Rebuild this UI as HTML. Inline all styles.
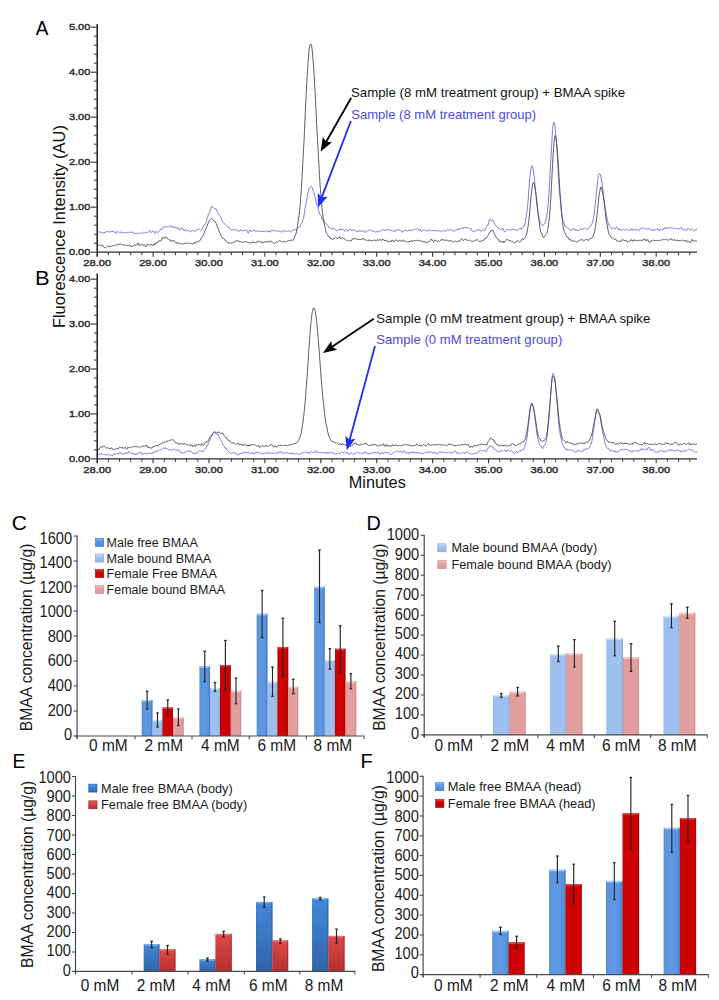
<!DOCTYPE html>
<html><head><meta charset="utf-8"><title>BMAA figure</title>
<style>html,body{margin:0;padding:0;background:#fff;}svg{display:block;}
text{font-family:"Liberation Sans", sans-serif;}</style></head>
<body><svg width="719" height="1000" viewBox="0 0 719 1000" font-family='"Liberation Sans", sans-serif'><defs>
<linearGradient id="mf" x1="0" x2="1" y1="0" y2="0"><stop offset="0" stop-color="#5a93dc"/><stop offset="0.5" stop-color="#5f99e2"/><stop offset="1" stop-color="#5690dc"/></linearGradient>
<linearGradient id="mfE"><stop offset="0" stop-color="#3d6fb8"/><stop offset="1" stop-color="#3d6fb8"/></linearGradient>
<linearGradient id="mfT"><stop offset="0" stop-color="#a9d6fa"/><stop offset="1" stop-color="#a9d6fa"/></linearGradient>
<linearGradient id="mb" x1="0" x2="1"><stop offset="0" stop-color="#9bbfee"/><stop offset="1" stop-color="#9ec1ef"/></linearGradient>
<linearGradient id="mbE"><stop offset="0" stop-color="#7aa0d4"/><stop offset="1" stop-color="#7aa0d4"/></linearGradient>
<linearGradient id="mbT"><stop offset="0" stop-color="#d6ecfc"/><stop offset="1" stop-color="#d6ecfc"/></linearGradient>
<linearGradient id="ff" x1="0" x2="1"><stop offset="0" stop-color="#cc0000"/><stop offset="1" stop-color="#cf0202"/></linearGradient>
<linearGradient id="ffE"><stop offset="0" stop-color="#a00000"/><stop offset="1" stop-color="#a00000"/></linearGradient>
<linearGradient id="ffT"><stop offset="0" stop-color="#e84a4a"/><stop offset="1" stop-color="#e84a4a"/></linearGradient>
<linearGradient id="fb" x1="0" x2="1"><stop offset="0" stop-color="#e29d9d"/><stop offset="1" stop-color="#e4a0a0"/></linearGradient>
<linearGradient id="fbE"><stop offset="0" stop-color="#c88484"/><stop offset="1" stop-color="#c88484"/></linearGradient>
<linearGradient id="fbT"><stop offset="0" stop-color="#f6d0d0"/><stop offset="1" stop-color="#f6d0d0"/></linearGradient>
<linearGradient id="eb" x1="0" x2="0" y1="0" y2="1"><stop offset="0" stop-color="#4388da"/><stop offset="1" stop-color="#3165aa"/></linearGradient>
<linearGradient id="ebE"><stop offset="0" stop-color="#2a5a9c"/><stop offset="1" stop-color="#2a5a9c"/></linearGradient>
<linearGradient id="ebT"><stop offset="0" stop-color="#6eb0f2"/><stop offset="1" stop-color="#6eb0f2"/></linearGradient>
<linearGradient id="er" x1="0" x2="0" y1="0" y2="1"><stop offset="0" stop-color="#e04848"/><stop offset="1" stop-color="#b53030"/></linearGradient>
<linearGradient id="erE"><stop offset="0" stop-color="#9a2424"/><stop offset="1" stop-color="#9a2424"/></linearGradient>
<linearGradient id="erT"><stop offset="0" stop-color="#ee7070"/><stop offset="1" stop-color="#ee7070"/></linearGradient>
<linearGradient id="mfL" x1="0" x2="0" y1="0" y2="1"><stop offset="0" stop-color="#8ec3f6"/><stop offset="0.35" stop-color="#5c98e2"/><stop offset="1" stop-color="#4d86d4"/></linearGradient>
<linearGradient id="mbL" x1="0" x2="0" y1="0" y2="1"><stop offset="0" stop-color="#cfe6fb"/><stop offset="0.35" stop-color="#a2c4f0"/><stop offset="1" stop-color="#93b6e6"/></linearGradient>
<linearGradient id="ffL" x1="0" x2="0" y1="0" y2="1"><stop offset="0" stop-color="#e84040"/><stop offset="0.35" stop-color="#cc0000"/><stop offset="1" stop-color="#c00000"/></linearGradient>
<linearGradient id="fbL" x1="0" x2="0" y1="0" y2="1"><stop offset="0" stop-color="#f5cccc"/><stop offset="0.35" stop-color="#e6a4a4"/><stop offset="1" stop-color="#dc9898"/></linearGradient>
<linearGradient id="ebL" x1="0" x2="0" y1="0" y2="1"><stop offset="0" stop-color="#5a9ce8"/><stop offset="0.4" stop-color="#3f80d2"/><stop offset="1" stop-color="#3068b0"/></linearGradient>
<linearGradient id="erL" x1="0" x2="0" y1="0" y2="1"><stop offset="0" stop-color="#ea6464"/><stop offset="0.4" stop-color="#d84040"/><stop offset="1" stop-color="#b83030"/></linearGradient>
</defs><rect width="719" height="1000" fill="#fff"/><line x1="97.20" y1="24.00" x2="97.20" y2="256.70" stroke="#1e1e1e" stroke-width="1.5"/>
<line x1="90.90" y1="252.20" x2="97.20" y2="252.20" stroke="#333" stroke-width="1.1"/>
<text x="90.40" y="255.10" font-size="9.6" text-anchor="end" fill="#333" font-weight="normal" textLength="21.5" lengthAdjust="spacingAndGlyphs" stroke="#333" stroke-width="0.45">0.00</text>
<line x1="93.90" y1="243.20" x2="97.20" y2="243.20" stroke="#333" stroke-width="1"/>
<line x1="93.90" y1="234.20" x2="97.20" y2="234.20" stroke="#333" stroke-width="1"/>
<line x1="93.90" y1="225.20" x2="97.20" y2="225.20" stroke="#333" stroke-width="1"/>
<line x1="93.90" y1="216.20" x2="97.20" y2="216.20" stroke="#333" stroke-width="1"/>
<line x1="90.90" y1="207.20" x2="97.20" y2="207.20" stroke="#333" stroke-width="1.1"/>
<text x="90.40" y="210.10" font-size="9.6" text-anchor="end" fill="#333" font-weight="normal" textLength="21.5" lengthAdjust="spacingAndGlyphs" stroke="#333" stroke-width="0.45">1.00</text>
<line x1="93.90" y1="198.20" x2="97.20" y2="198.20" stroke="#333" stroke-width="1"/>
<line x1="93.90" y1="189.20" x2="97.20" y2="189.20" stroke="#333" stroke-width="1"/>
<line x1="93.90" y1="180.20" x2="97.20" y2="180.20" stroke="#333" stroke-width="1"/>
<line x1="93.90" y1="171.20" x2="97.20" y2="171.20" stroke="#333" stroke-width="1"/>
<line x1="90.90" y1="162.20" x2="97.20" y2="162.20" stroke="#333" stroke-width="1.1"/>
<text x="90.40" y="165.10" font-size="9.6" text-anchor="end" fill="#333" font-weight="normal" textLength="21.5" lengthAdjust="spacingAndGlyphs" stroke="#333" stroke-width="0.45">2.00</text>
<line x1="93.90" y1="153.20" x2="97.20" y2="153.20" stroke="#333" stroke-width="1"/>
<line x1="93.90" y1="144.20" x2="97.20" y2="144.20" stroke="#333" stroke-width="1"/>
<line x1="93.90" y1="135.20" x2="97.20" y2="135.20" stroke="#333" stroke-width="1"/>
<line x1="93.90" y1="126.20" x2="97.20" y2="126.20" stroke="#333" stroke-width="1"/>
<line x1="90.90" y1="117.20" x2="97.20" y2="117.20" stroke="#333" stroke-width="1.1"/>
<text x="90.40" y="120.10" font-size="9.6" text-anchor="end" fill="#333" font-weight="normal" textLength="21.5" lengthAdjust="spacingAndGlyphs" stroke="#333" stroke-width="0.45">3.00</text>
<line x1="93.90" y1="108.20" x2="97.20" y2="108.20" stroke="#333" stroke-width="1"/>
<line x1="93.90" y1="99.20" x2="97.20" y2="99.20" stroke="#333" stroke-width="1"/>
<line x1="93.90" y1="90.20" x2="97.20" y2="90.20" stroke="#333" stroke-width="1"/>
<line x1="93.90" y1="81.20" x2="97.20" y2="81.20" stroke="#333" stroke-width="1"/>
<line x1="90.90" y1="72.20" x2="97.20" y2="72.20" stroke="#333" stroke-width="1.1"/>
<text x="90.40" y="75.10" font-size="9.6" text-anchor="end" fill="#333" font-weight="normal" textLength="21.5" lengthAdjust="spacingAndGlyphs" stroke="#333" stroke-width="0.45">4.00</text>
<line x1="93.90" y1="63.20" x2="97.20" y2="63.20" stroke="#333" stroke-width="1"/>
<line x1="93.90" y1="54.20" x2="97.20" y2="54.20" stroke="#333" stroke-width="1"/>
<line x1="93.90" y1="45.20" x2="97.20" y2="45.20" stroke="#333" stroke-width="1"/>
<line x1="93.90" y1="36.20" x2="97.20" y2="36.20" stroke="#333" stroke-width="1"/>
<line x1="90.90" y1="27.20" x2="97.20" y2="27.20" stroke="#333" stroke-width="1.1"/>
<text x="90.40" y="30.10" font-size="9.6" text-anchor="end" fill="#333" font-weight="normal" textLength="21.5" lengthAdjust="spacingAndGlyphs" stroke="#333" stroke-width="0.45">5.00</text>
<line x1="97.20" y1="252.20" x2="697.00" y2="252.20" stroke="#2a2a2a" stroke-width="1.3"/>
<text x="97.20" y="265.80" font-size="9.6" text-anchor="middle" fill="#333" font-weight="normal" textLength="27.8" lengthAdjust="spacingAndGlyphs" stroke="#333" stroke-width="0.45">28.00</text>
<line x1="108.38" y1="252.20" x2="108.38" y2="255.20" stroke="#333" stroke-width="1"/>
<line x1="119.56" y1="252.20" x2="119.56" y2="255.20" stroke="#333" stroke-width="1"/>
<line x1="130.74" y1="252.20" x2="130.74" y2="255.20" stroke="#333" stroke-width="1"/>
<line x1="141.92" y1="252.20" x2="141.92" y2="255.20" stroke="#333" stroke-width="1"/>
<line x1="153.10" y1="252.20" x2="153.10" y2="256.70" stroke="#333" stroke-width="1.1"/>
<text x="153.10" y="265.80" font-size="9.6" text-anchor="middle" fill="#333" font-weight="normal" textLength="27.8" lengthAdjust="spacingAndGlyphs" stroke="#333" stroke-width="0.45">29.00</text>
<line x1="164.28" y1="252.20" x2="164.28" y2="255.20" stroke="#333" stroke-width="1"/>
<line x1="175.46" y1="252.20" x2="175.46" y2="255.20" stroke="#333" stroke-width="1"/>
<line x1="186.64" y1="252.20" x2="186.64" y2="255.20" stroke="#333" stroke-width="1"/>
<line x1="197.82" y1="252.20" x2="197.82" y2="255.20" stroke="#333" stroke-width="1"/>
<line x1="209.00" y1="252.20" x2="209.00" y2="256.70" stroke="#333" stroke-width="1.1"/>
<text x="209.00" y="265.80" font-size="9.6" text-anchor="middle" fill="#333" font-weight="normal" textLength="27.8" lengthAdjust="spacingAndGlyphs" stroke="#333" stroke-width="0.45">30.00</text>
<line x1="220.18" y1="252.20" x2="220.18" y2="255.20" stroke="#333" stroke-width="1"/>
<line x1="231.36" y1="252.20" x2="231.36" y2="255.20" stroke="#333" stroke-width="1"/>
<line x1="242.54" y1="252.20" x2="242.54" y2="255.20" stroke="#333" stroke-width="1"/>
<line x1="253.72" y1="252.20" x2="253.72" y2="255.20" stroke="#333" stroke-width="1"/>
<line x1="264.90" y1="252.20" x2="264.90" y2="256.70" stroke="#333" stroke-width="1.1"/>
<text x="264.90" y="265.80" font-size="9.6" text-anchor="middle" fill="#333" font-weight="normal" textLength="27.8" lengthAdjust="spacingAndGlyphs" stroke="#333" stroke-width="0.45">31.00</text>
<line x1="276.08" y1="252.20" x2="276.08" y2="255.20" stroke="#333" stroke-width="1"/>
<line x1="287.26" y1="252.20" x2="287.26" y2="255.20" stroke="#333" stroke-width="1"/>
<line x1="298.44" y1="252.20" x2="298.44" y2="255.20" stroke="#333" stroke-width="1"/>
<line x1="309.62" y1="252.20" x2="309.62" y2="255.20" stroke="#333" stroke-width="1"/>
<line x1="320.80" y1="252.20" x2="320.80" y2="256.70" stroke="#333" stroke-width="1.1"/>
<text x="320.80" y="265.80" font-size="9.6" text-anchor="middle" fill="#333" font-weight="normal" textLength="27.8" lengthAdjust="spacingAndGlyphs" stroke="#333" stroke-width="0.45">32.00</text>
<line x1="331.98" y1="252.20" x2="331.98" y2="255.20" stroke="#333" stroke-width="1"/>
<line x1="343.16" y1="252.20" x2="343.16" y2="255.20" stroke="#333" stroke-width="1"/>
<line x1="354.34" y1="252.20" x2="354.34" y2="255.20" stroke="#333" stroke-width="1"/>
<line x1="365.52" y1="252.20" x2="365.52" y2="255.20" stroke="#333" stroke-width="1"/>
<line x1="376.70" y1="252.20" x2="376.70" y2="256.70" stroke="#333" stroke-width="1.1"/>
<text x="376.70" y="265.80" font-size="9.6" text-anchor="middle" fill="#333" font-weight="normal" textLength="27.8" lengthAdjust="spacingAndGlyphs" stroke="#333" stroke-width="0.45">33.00</text>
<line x1="387.88" y1="252.20" x2="387.88" y2="255.20" stroke="#333" stroke-width="1"/>
<line x1="399.06" y1="252.20" x2="399.06" y2="255.20" stroke="#333" stroke-width="1"/>
<line x1="410.24" y1="252.20" x2="410.24" y2="255.20" stroke="#333" stroke-width="1"/>
<line x1="421.42" y1="252.20" x2="421.42" y2="255.20" stroke="#333" stroke-width="1"/>
<line x1="432.60" y1="252.20" x2="432.60" y2="256.70" stroke="#333" stroke-width="1.1"/>
<text x="432.60" y="265.80" font-size="9.6" text-anchor="middle" fill="#333" font-weight="normal" textLength="27.8" lengthAdjust="spacingAndGlyphs" stroke="#333" stroke-width="0.45">34.00</text>
<line x1="443.78" y1="252.20" x2="443.78" y2="255.20" stroke="#333" stroke-width="1"/>
<line x1="454.96" y1="252.20" x2="454.96" y2="255.20" stroke="#333" stroke-width="1"/>
<line x1="466.14" y1="252.20" x2="466.14" y2="255.20" stroke="#333" stroke-width="1"/>
<line x1="477.32" y1="252.20" x2="477.32" y2="255.20" stroke="#333" stroke-width="1"/>
<line x1="488.50" y1="252.20" x2="488.50" y2="256.70" stroke="#333" stroke-width="1.1"/>
<text x="488.50" y="265.80" font-size="9.6" text-anchor="middle" fill="#333" font-weight="normal" textLength="27.8" lengthAdjust="spacingAndGlyphs" stroke="#333" stroke-width="0.45">35.00</text>
<line x1="499.68" y1="252.20" x2="499.68" y2="255.20" stroke="#333" stroke-width="1"/>
<line x1="510.86" y1="252.20" x2="510.86" y2="255.20" stroke="#333" stroke-width="1"/>
<line x1="522.04" y1="252.20" x2="522.04" y2="255.20" stroke="#333" stroke-width="1"/>
<line x1="533.22" y1="252.20" x2="533.22" y2="255.20" stroke="#333" stroke-width="1"/>
<line x1="544.40" y1="252.20" x2="544.40" y2="256.70" stroke="#333" stroke-width="1.1"/>
<text x="544.40" y="265.80" font-size="9.6" text-anchor="middle" fill="#333" font-weight="normal" textLength="27.8" lengthAdjust="spacingAndGlyphs" stroke="#333" stroke-width="0.45">36.00</text>
<line x1="555.58" y1="252.20" x2="555.58" y2="255.20" stroke="#333" stroke-width="1"/>
<line x1="566.76" y1="252.20" x2="566.76" y2="255.20" stroke="#333" stroke-width="1"/>
<line x1="577.94" y1="252.20" x2="577.94" y2="255.20" stroke="#333" stroke-width="1"/>
<line x1="589.12" y1="252.20" x2="589.12" y2="255.20" stroke="#333" stroke-width="1"/>
<line x1="600.30" y1="252.20" x2="600.30" y2="256.70" stroke="#333" stroke-width="1.1"/>
<text x="600.30" y="265.80" font-size="9.6" text-anchor="middle" fill="#333" font-weight="normal" textLength="27.8" lengthAdjust="spacingAndGlyphs" stroke="#333" stroke-width="0.45">37.00</text>
<line x1="611.48" y1="252.20" x2="611.48" y2="255.20" stroke="#333" stroke-width="1"/>
<line x1="622.66" y1="252.20" x2="622.66" y2="255.20" stroke="#333" stroke-width="1"/>
<line x1="633.84" y1="252.20" x2="633.84" y2="255.20" stroke="#333" stroke-width="1"/>
<line x1="645.02" y1="252.20" x2="645.02" y2="255.20" stroke="#333" stroke-width="1"/>
<line x1="656.20" y1="252.20" x2="656.20" y2="256.70" stroke="#333" stroke-width="1.1"/>
<text x="656.20" y="265.80" font-size="9.6" text-anchor="middle" fill="#333" font-weight="normal" textLength="27.8" lengthAdjust="spacingAndGlyphs" stroke="#333" stroke-width="0.45">38.00</text>
<line x1="667.38" y1="252.20" x2="667.38" y2="255.20" stroke="#333" stroke-width="1"/>
<line x1="678.56" y1="252.20" x2="678.56" y2="255.20" stroke="#333" stroke-width="1"/>
<line x1="689.74" y1="252.20" x2="689.74" y2="255.20" stroke="#333" stroke-width="1"/>
<path d="M98.0,231.64 L98.5,232.12 L99.0,231.66 L99.5,231.45 L100.0,231.94 L100.5,232.79 L101.0,232.44 L101.5,232.27 L102.0,231.95 L102.5,232.48 L103.0,233.27 L103.5,233.26 L104.0,233.05 L104.5,232.26 L105.0,232.54 L105.5,232.54 L106.0,232.55 L106.5,231.30 L107.0,231.48 L107.5,231.58 L108.0,232.07 L108.5,231.80 L109.0,231.79 L109.5,231.90 L110.0,232.23 L110.5,232.05 L111.0,231.29 L111.5,231.51 L112.0,231.02 L112.5,231.86 L113.0,230.95 L113.5,231.51 L114.0,231.47 L114.5,232.14 L115.0,233.10 L115.5,233.43 L116.0,233.41 L116.5,231.73 L117.0,231.55 L117.5,231.65 L118.0,232.11 L118.5,232.43 L119.0,232.18 L119.5,232.08 L120.0,231.98 L120.5,231.86 L121.0,232.79 L121.5,232.59 L122.0,233.22 L122.5,232.44 L123.0,232.80 L123.5,232.45 L124.0,232.80 L124.5,232.60 L125.0,233.14 L125.5,232.97 L126.0,233.14 L126.5,232.42 L127.0,232.40 L127.5,232.49 L128.0,233.18 L128.5,232.60 L129.0,232.49 L129.5,232.01 L130.0,232.47 L130.5,232.44 L131.0,232.43 L131.5,232.26 L132.0,231.99 L132.5,231.83 L133.0,232.36 L133.5,233.46 L134.0,233.85 L134.5,233.78 L135.0,233.64 L135.5,233.45 L136.0,233.19 L136.5,233.20 L137.0,233.22 L137.5,233.41 L138.0,233.15 L138.5,232.96 L139.0,233.27 L139.5,233.85 L140.0,233.12 L140.5,232.68 L141.0,232.99 L141.5,233.27 L142.0,233.90 L142.5,233.07 L143.0,232.55 L143.5,232.11 L144.0,231.87 L144.5,232.08 L145.0,232.71 L145.5,232.68 L146.0,232.39 L146.5,232.32 L147.0,231.88 L147.5,232.29 L148.0,231.86 L148.5,232.09 L149.0,231.35 L149.5,230.59 L150.0,230.41 L150.5,231.41 L151.0,232.55 L151.5,232.30 L152.0,231.91 L152.5,231.33 L153.0,231.70 L153.5,231.38 L154.0,231.36 L154.5,232.02 L155.0,233.46 L155.5,232.77 L156.0,231.85 L156.5,231.27 L157.0,232.15 L157.5,232.46 L158.0,232.46 L158.5,231.75 L159.0,231.33 L159.5,231.31 L160.0,230.14 L160.5,229.72 L161.0,228.80 L161.5,229.31 L162.0,229.38 L162.5,229.01 L163.0,227.64 L163.5,226.85 L164.0,226.31 L164.5,226.75 L165.0,227.11 L165.5,226.99 L166.0,227.20 L166.5,226.60 L167.0,226.75 L167.5,226.55 L168.0,226.53 L168.5,226.80 L169.0,226.43 L169.5,226.23 L170.0,225.56 L170.5,226.58 L171.0,227.20 L171.5,227.70 L172.0,226.64 L172.5,226.02 L173.0,226.31 L173.5,226.48 L174.0,227.80 L174.5,227.73 L175.0,228.13 L175.5,226.89 L176.0,227.45 L176.5,228.00 L177.0,228.47 L177.5,228.10 L178.0,227.53 L178.5,229.45 L179.0,229.55 L179.5,230.43 L180.0,229.26 L180.5,228.60 L181.0,228.30 L181.5,227.86 L182.0,229.20 L182.5,228.92 L183.0,229.31 L183.5,229.39 L184.0,230.75 L184.5,230.72 L185.0,229.76 L185.5,229.56 L186.0,230.46 L186.5,231.21 L187.0,230.68 L187.5,230.14 L188.0,230.12 L188.5,230.24 L189.0,230.70 L189.5,231.15 L190.0,232.12 L190.5,231.79 L191.0,231.59 L191.5,230.64 L192.0,230.68 L192.5,230.26 L193.0,230.19 L193.5,230.36 L194.0,231.13 L194.5,231.84 L195.0,231.66 L195.5,231.08 L196.0,230.51 L196.5,229.85 L197.0,229.79 L197.5,229.74 L198.0,229.24 L198.5,229.06 L199.0,229.27 L199.5,229.56 L200.0,229.97 L200.5,230.01 L201.0,229.89 L201.5,229.93 L202.0,229.38 L202.5,228.68 L203.0,226.98 L203.5,226.08 L204.0,225.36 L204.5,225.55 L205.0,224.27 L205.5,223.87 L206.0,222.48 L206.5,220.66 L207.0,218.85 L207.5,216.88 L208.0,215.81 L208.5,213.97 L209.0,213.20 L209.5,212.34 L210.0,211.63 L210.5,209.80 L211.0,208.48 L211.5,206.51 L212.0,206.51 L212.5,206.47 L213.0,207.42 L213.5,207.75 L214.0,207.71 L214.5,208.63 L215.0,208.72 L215.5,208.92 L216.0,208.85 L216.5,210.31 L217.0,211.54 L217.5,212.56 L218.0,213.01 L218.5,213.58 L219.0,214.67 L219.5,215.46 L220.0,216.33 L220.5,216.95 L221.0,217.75 L221.5,219.34 L222.0,221.01 L222.5,222.10 L223.0,222.09 L223.5,222.56 L224.0,223.25 L224.5,224.03 L225.0,224.39 L225.5,224.90 L226.0,225.46 L226.5,225.59 L227.0,225.71 L227.5,226.34 L228.0,227.32 L228.5,227.43 L229.0,228.02 L229.5,227.73 L230.0,228.94 L230.5,229.23 L231.0,229.81 L231.5,230.07 L232.0,229.96 L232.5,229.22 L233.0,229.42 L233.5,229.88 L234.0,230.07 L234.5,230.09 L235.0,229.32 L235.5,229.34 L236.0,229.61 L236.5,230.26 L237.0,230.63 L237.5,231.04 L238.0,231.14 L238.5,231.03 L239.0,231.17 L239.5,230.95 L240.0,230.76 L240.5,229.97 L241.0,229.31 L241.5,230.18 L242.0,230.94 L242.5,230.86 L243.0,230.59 L243.5,230.02 L244.0,230.76 L244.5,230.58 L245.0,230.62 L245.5,230.04 L246.0,229.94 L246.5,229.61 L247.0,230.82 L247.5,231.92 L248.0,233.09 L248.5,232.94 L249.0,231.66 L249.5,230.15 L250.0,229.97 L250.5,231.21 L251.0,231.55 L251.5,231.77 L252.0,231.14 L252.5,231.08 L253.0,230.86 L253.5,230.18 L254.0,230.12 L254.5,230.88 L255.0,231.21 L255.5,230.98 L256.0,231.00 L256.5,230.91 L257.0,230.61 L257.5,231.12 L258.0,231.41 L258.5,231.97 L259.0,230.87 L259.5,230.70 L260.0,230.92 L260.5,231.19 L261.0,231.79 L261.5,231.22 L262.0,231.74 L262.5,231.34 L263.0,231.41 L263.5,231.51 L264.0,231.59 L264.5,232.11 L265.0,231.12 L265.5,231.11 L266.0,230.92 L266.5,231.14 L267.0,231.39 L267.5,231.25 L268.0,231.99 L268.5,231.48 L269.0,231.19 L269.5,231.17 L270.0,232.23 L270.5,232.12 L271.0,231.12 L271.5,230.30 L272.0,230.24 L272.5,230.26 L273.0,230.27 L273.5,230.69 L274.0,231.07 L274.5,230.93 L275.0,230.55 L275.5,230.66 L276.0,230.37 L276.5,230.84 L277.0,230.51 L277.5,230.98 L278.0,231.00 L278.5,231.11 L279.0,231.55 L279.5,231.67 L280.0,231.75 L280.5,231.19 L281.0,231.84 L281.5,232.16 L282.0,231.87 L282.5,231.00 L283.0,230.39 L283.5,230.08 L284.0,231.14 L284.5,231.79 L285.0,231.72 L285.5,231.29 L286.0,230.89 L286.5,230.80 L287.0,231.09 L287.5,231.35 L288.0,231.44 L288.5,231.08 L289.0,230.62 L289.5,230.87 L290.0,231.50 L290.5,231.98 L291.0,231.81 L291.5,231.36 L292.0,230.87 L292.5,230.70 L293.0,230.19 L293.5,229.95 L294.0,229.25 L294.5,229.94 L295.0,229.60 L295.5,229.83 L296.0,229.40 L296.5,229.82 L297.0,229.16 L297.5,228.57 L298.0,227.81 L298.5,227.29 L299.0,227.62 L299.5,226.60 L300.0,226.80 L300.5,225.26 L301.0,224.56 L301.5,223.21 L302.0,222.50 L302.5,221.07 L303.0,219.65 L303.5,218.96 L304.0,215.76 L304.5,212.91 L305.0,208.78 L305.5,206.18 L306.0,203.73 L306.5,201.23 L307.0,198.11 L307.5,195.31 L308.0,192.65 L308.5,190.46 L309.0,188.92 L309.5,187.67 L310.0,187.28 L310.5,187.24 L311.0,186.65 L311.5,186.26 L312.0,187.18 L312.5,188.65 L313.0,190.41 L313.5,191.57 L314.0,192.85 L314.5,195.30 L315.0,197.21 L315.5,199.89 L316.0,201.93 L316.5,203.99 L317.0,204.89 L317.5,206.44 L318.0,207.79 L318.5,210.06 L319.0,211.84 L319.5,213.28 L320.0,215.10 L320.5,215.31 L321.0,216.35 L321.5,216.41 L322.0,219.03 L322.5,219.98 L323.0,220.43 L323.5,220.28 L324.0,220.24 L324.5,222.02 L325.0,222.42 L325.5,223.29 L326.0,223.32 L326.5,224.39 L327.0,224.94 L327.5,225.00 L328.0,225.67 L328.5,226.88 L329.0,227.90 L329.5,227.73 L330.0,227.43 L330.5,227.82 L331.0,228.38 L331.5,228.40 L332.0,228.66 L332.5,228.89 L333.0,228.89 L333.5,227.90 L334.0,228.64 L334.5,228.77 L335.0,229.15 L335.5,229.40 L336.0,230.14 L336.5,230.80 L337.0,230.93 L337.5,230.73 L338.0,230.60 L338.5,230.22 L339.0,229.27 L339.5,229.06 L340.0,230.21 L340.5,229.63 L341.0,230.03 L341.5,229.05 L342.0,229.63 L342.5,229.48 L343.0,229.99 L343.5,229.90 L344.0,230.53 L344.5,230.76 L345.0,231.07 L345.5,231.26 L346.0,230.45 L346.5,229.62 L347.0,229.64 L347.5,230.91 L348.0,231.24 L348.5,230.84 L349.0,229.39 L349.5,229.32 L350.0,229.39 L350.5,229.45 L351.0,230.15 L351.5,230.56 L352.0,230.66 L352.5,229.71 L353.0,229.80 L353.5,229.96 L354.0,230.36 L354.5,229.97 L355.0,230.30 L355.5,230.93 L356.0,231.51 L356.5,231.77 L357.0,231.21 L357.5,231.25 L358.0,231.15 L358.5,231.91 L359.0,231.41 L359.5,231.10 L360.0,230.38 L360.5,231.12 L361.0,231.77 L361.5,231.30 L362.0,231.60 L362.5,230.98 L363.0,230.77 L363.5,230.40 L364.0,231.13 L364.5,232.04 L365.0,232.56 L365.5,231.68 L366.0,231.53 L366.5,231.47 L367.0,231.08 L367.5,230.67 L368.0,230.35 L368.5,230.31 L369.0,230.27 L369.5,229.78 L370.0,229.80 L370.5,230.54 L371.0,230.48 L371.5,230.56 L372.0,230.41 L372.5,230.90 L373.0,231.54 L373.5,231.72 L374.0,231.01 L374.5,231.47 L375.0,231.63 L375.5,232.30 L376.0,231.87 L376.5,231.69 L377.0,231.17 L377.5,231.88 L378.0,231.94 L378.5,231.55 L379.0,232.17 L379.5,231.38 L380.0,231.00 L380.5,230.58 L381.0,230.33 L381.5,230.68 L382.0,229.78 L382.5,229.25 L383.0,229.14 L383.5,229.83 L384.0,230.53 L384.5,230.46 L385.0,230.81 L385.5,229.74 L386.0,229.71 L386.5,229.54 L387.0,229.73 L387.5,230.01 L388.0,230.12 L388.5,230.09 L389.0,229.39 L389.5,230.11 L390.0,229.94 L390.5,230.58 L391.0,229.99 L391.5,230.41 L392.0,230.58 L392.5,230.67 L393.0,231.37 L393.5,231.19 L394.0,231.77 L394.5,230.44 L395.0,230.72 L395.5,230.95 L396.0,231.22 L396.5,230.17 L397.0,229.34 L397.5,229.39 L398.0,230.24 L398.5,230.40 L399.0,229.65 L399.5,229.70 L400.0,230.22 L400.5,230.53 L401.0,231.01 L401.5,231.72 L402.0,232.44 L402.5,232.08 L403.0,230.97 L403.5,230.44 L404.0,230.95 L404.5,230.89 L405.0,230.69 L405.5,230.54 L406.0,230.12 L406.5,230.26 L407.0,230.88 L407.5,231.25 L408.0,230.63 L408.5,230.03 L409.0,229.51 L409.5,230.38 L410.0,230.43 L410.5,231.03 L411.0,230.56 L411.5,229.83 L412.0,229.63 L412.5,229.77 L413.0,230.58 L413.5,229.77 L414.0,229.33 L414.5,228.83 L415.0,229.36 L415.5,229.42 L416.0,229.47 L416.5,229.38 L417.0,228.82 L417.5,228.24 L418.0,228.63 L418.5,229.72 L419.0,230.79 L419.5,230.25 L420.0,229.47 L420.5,229.55 L421.0,230.85 L421.5,231.55 L422.0,231.41 L422.5,230.80 L423.0,230.23 L423.5,230.05 L424.0,229.94 L424.5,230.14 L425.0,230.12 L425.5,230.13 L426.0,230.63 L426.5,230.85 L427.0,231.40 L427.5,231.32 L428.0,230.70 L428.5,229.92 L429.0,229.52 L429.5,230.08 L430.0,230.27 L430.5,230.80 L431.0,230.39 L431.5,230.96 L432.0,230.22 L432.5,229.95 L433.0,230.49 L433.5,230.60 L434.0,231.26 L434.5,230.23 L435.0,230.94 L435.5,230.23 L436.0,230.46 L436.5,230.47 L437.0,231.44 L437.5,231.44 L438.0,231.23 L438.5,230.72 L439.0,230.72 L439.5,231.01 L440.0,230.23 L440.5,230.77 L441.0,230.81 L441.5,231.56 L442.0,231.32 L442.5,230.98 L443.0,230.67 L443.5,230.03 L444.0,230.68 L444.5,231.03 L445.0,231.61 L445.5,231.15 L446.0,230.78 L446.5,230.32 L447.0,230.13 L447.5,229.58 L448.0,229.92 L448.5,230.34 L449.0,230.20 L449.5,229.68 L450.0,229.44 L450.5,229.40 L451.0,229.83 L451.5,230.53 L452.0,230.60 L452.5,229.90 L453.0,230.38 L453.5,230.38 L454.0,231.52 L454.5,231.22 L455.0,230.84 L455.5,230.42 L456.0,229.86 L456.5,230.26 L457.0,229.99 L457.5,229.67 L458.0,228.43 L458.5,229.32 L459.0,229.62 L459.5,229.81 L460.0,228.89 L460.5,228.30 L461.0,227.98 L461.5,228.10 L462.0,227.91 L462.5,227.97 L463.0,228.66 L463.5,227.61 L464.0,228.04 L464.5,227.38 L465.0,228.09 L465.5,227.09 L466.0,228.18 L466.5,227.69 L467.0,227.68 L467.5,227.09 L468.0,227.54 L468.5,228.11 L469.0,228.37 L469.5,228.33 L470.0,229.22 L470.5,228.83 L471.0,228.75 L471.5,229.20 L472.0,230.81 L472.5,231.35 L473.0,230.94 L473.5,231.71 L474.0,231.60 L474.5,231.72 L475.0,230.79 L475.5,230.79 L476.0,230.70 L476.5,230.11 L477.0,230.08 L477.5,230.17 L478.0,230.14 L478.5,229.30 L479.0,229.17 L479.5,230.04 L480.0,230.67 L480.5,230.74 L481.0,230.93 L481.5,231.13 L482.0,230.81 L482.5,230.63 L483.0,229.78 L483.5,230.06 L484.0,230.55 L484.5,230.65 L485.0,229.76 L485.5,228.90 L486.0,227.69 L486.5,226.78 L487.0,225.42 L487.5,225.20 L488.0,224.97 L488.5,223.93 L489.0,221.26 L489.5,219.66 L490.0,218.92 L490.5,219.38 L491.0,220.53 L491.5,220.98 L492.0,221.15 L492.5,220.47 L493.0,220.38 L493.5,220.68 L494.0,221.91 L494.5,224.01 L495.0,224.64 L495.5,225.55 L496.0,225.45 L496.5,226.33 L497.0,227.02 L497.5,227.59 L498.0,227.84 L498.5,228.10 L499.0,227.62 L499.5,228.13 L500.0,229.00 L500.5,229.37 L501.0,229.72 L501.5,229.99 L502.0,229.20 L502.5,228.40 L503.0,228.55 L503.5,229.89 L504.0,231.27 L504.5,231.71 L505.0,231.64 L505.5,231.07 L506.0,230.79 L506.5,229.78 L507.0,229.92 L507.5,229.66 L508.0,230.19 L508.5,229.81 L509.0,229.18 L509.5,229.32 L510.0,229.82 L510.5,230.23 L511.0,230.21 L511.5,229.30 L512.0,229.46 L512.5,229.09 L513.0,229.69 L513.5,229.45 L514.0,230.05 L514.5,229.80 L515.0,229.59 L515.5,229.09 L516.0,229.63 L516.5,230.36 L517.0,230.52 L517.5,230.35 L518.0,229.91 L518.5,229.69 L519.0,228.93 L519.5,228.71 L520.0,227.97 L520.5,228.98 L521.0,228.92 L521.5,229.29 L522.0,227.76 L522.5,227.13 L523.0,226.58 L523.5,227.18 L524.0,226.39 L524.5,225.01 L525.0,223.86 L525.5,221.11 L526.0,218.04 L526.5,214.50 L527.0,211.68 L527.5,207.30 L528.0,202.19 L528.5,194.56 L529.0,188.23 L529.5,181.86 L530.0,176.32 L530.5,171.97 L531.0,168.35 L531.5,166.97 L532.0,165.66 L532.5,166.80 L533.0,168.21 L533.5,171.84 L534.0,175.14 L534.5,179.39 L535.0,184.36 L535.5,189.27 L536.0,194.48 L536.5,198.69 L537.0,203.65 L537.5,207.86 L538.0,211.80 L538.5,215.02 L539.0,217.67 L539.5,219.32 L540.0,221.03 L540.5,222.82 L541.0,224.59 L541.5,224.91 L542.0,225.05 L542.5,224.89 L543.0,225.50 L543.5,225.28 L544.0,224.45 L544.5,223.75 L545.0,223.09 L545.5,221.87 L546.0,219.71 L546.5,216.79 L547.0,214.14 L547.5,210.57 L548.0,205.44 L548.5,199.37 L549.0,192.80 L549.5,185.09 L550.0,175.50 L550.5,166.13 L551.0,157.03 L551.5,148.21 L552.0,139.13 L552.5,130.59 L553.0,125.53 L553.5,122.80 L554.0,122.15 L554.5,123.50 L555.0,126.85 L555.5,132.03 L556.0,136.79 L556.5,143.25 L557.0,150.99 L557.5,159.66 L558.0,168.39 L558.5,176.79 L559.0,185.29 L559.5,191.79 L560.0,197.17 L560.5,202.80 L561.0,208.65 L561.5,213.38 L562.0,216.68 L562.5,219.13 L563.0,220.80 L563.5,221.34 L564.0,222.87 L564.5,224.57 L565.0,226.35 L565.5,226.40 L566.0,226.22 L566.5,227.19 L567.0,227.59 L567.5,227.58 L568.0,227.57 L568.5,228.70 L569.0,228.90 L569.5,229.64 L570.0,229.39 L570.5,230.72 L571.0,230.61 L571.5,230.42 L572.0,229.18 L572.5,228.77 L573.0,228.15 L573.5,228.59 L574.0,229.83 L574.5,229.75 L575.0,230.28 L575.5,228.92 L576.0,229.95 L576.5,230.05 L577.0,230.45 L577.5,230.57 L578.0,230.07 L578.5,231.01 L579.0,230.20 L579.5,229.94 L580.0,229.18 L580.5,228.89 L581.0,229.06 L581.5,229.09 L582.0,229.90 L582.5,229.57 L583.0,229.32 L583.5,228.13 L584.0,228.12 L584.5,227.96 L585.0,228.05 L585.5,228.48 L586.0,229.00 L586.5,229.18 L587.0,228.79 L587.5,228.83 L588.0,228.89 L588.5,228.78 L589.0,227.95 L589.5,227.33 L590.0,226.37 L590.5,226.32 L591.0,225.53 L591.5,224.75 L592.0,223.62 L592.5,222.24 L593.0,220.21 L593.5,217.72 L594.0,214.94 L594.5,210.93 L595.0,206.84 L595.5,201.97 L596.0,196.73 L596.5,191.77 L597.0,186.95 L597.5,182.18 L598.0,177.79 L598.5,174.70 L599.0,173.81 L599.5,173.79 L600.0,173.97 L600.5,174.93 L601.0,177.17 L601.5,179.97 L602.0,182.34 L602.5,186.78 L603.0,190.35 L603.5,195.16 L604.0,199.12 L604.5,203.89 L605.0,207.06 L605.5,210.01 L606.0,212.97 L606.5,215.22 L607.0,218.39 L607.5,220.34 L608.0,222.48 L608.5,223.59 L609.0,225.17 L609.5,226.27 L610.0,226.85 L610.5,227.02 L611.0,227.52 L611.5,228.71 L612.0,228.54 L612.5,227.91 L613.0,227.49 L613.5,227.93 L614.0,228.22 L614.5,228.60 L615.0,229.13 L615.5,228.50 L616.0,227.99 L616.5,226.85 L617.0,227.21 L617.5,228.05 L618.0,229.05 L618.5,230.22 L619.0,229.35 L619.5,229.02 L620.0,228.89 L620.5,230.02 L621.0,230.71 L621.5,230.58 L622.0,230.01 L622.5,229.53 L623.0,229.28 L623.5,229.47 L624.0,229.42 L624.5,229.83 L625.0,229.94 L625.5,229.65 L626.0,229.48 L626.5,229.40 L627.0,229.65 L627.5,229.83 L628.0,230.19 L628.5,230.32 L629.0,230.60 L629.5,230.10 L630.0,230.55 L630.5,230.50 L631.0,229.73 L631.5,228.60 L632.0,228.91 L632.5,230.15 L633.0,229.91 L633.5,230.13 L634.0,229.55 L634.5,229.21 L635.0,229.50 L635.5,229.39 L636.0,230.40 L636.5,230.02 L637.0,229.96 L637.5,229.56 L638.0,230.54 L638.5,230.86 L639.0,230.33 L639.5,229.94 L640.0,228.75 L640.5,228.26 L641.0,228.67 L641.5,228.42 L642.0,228.87 L642.5,228.00 L643.0,228.19 L643.5,227.67 L644.0,227.89 L644.5,228.12 L645.0,228.87 L645.5,229.11 L646.0,229.16 L646.5,229.07 L647.0,228.66 L647.5,228.93 L648.0,229.08 L648.5,228.72 L649.0,228.06 L649.5,228.69 L650.0,229.82 L650.5,230.37 L651.0,230.18 L651.5,229.81 L652.0,230.62 L652.5,230.34 L653.0,229.91 L653.5,229.63 L654.0,230.49 L654.5,231.01 L655.0,230.37 L655.5,229.57 L656.0,228.90 L656.5,229.37 L657.0,228.88 L657.5,228.83 L658.0,229.04 L658.5,229.94 L659.0,230.63 L659.5,230.78 L660.0,230.02 L660.5,229.27 L661.0,229.08 L661.5,229.15 L662.0,229.92 L662.5,230.46 L663.0,230.00 L663.5,229.44 L664.0,228.08 L664.5,227.94 L665.0,227.64 L665.5,228.78 L666.0,228.26 L666.5,228.70 L667.0,227.66 L667.5,227.72 L668.0,227.29 L668.5,228.26 L669.0,228.51 L669.5,228.60 L670.0,227.49 L670.5,227.28 L671.0,227.58 L671.5,227.85 L672.0,228.13 L672.5,228.34 L673.0,228.58 L673.5,228.18 L674.0,228.28 L674.5,228.13 L675.0,228.13 L675.5,228.51 L676.0,228.81 L676.5,228.82 L677.0,228.44 L677.5,228.31 L678.0,228.97 L678.5,229.32 L679.0,228.83 L679.5,228.90 L680.0,228.01 L680.5,227.72 L681.0,227.28 L681.5,227.56 L682.0,228.28 L682.5,229.49 L683.0,230.33 L683.5,230.09 L684.0,229.51 L684.5,229.16 L685.0,228.95 L685.5,229.94 L686.0,230.40 L686.5,230.84 L687.0,229.81 L687.5,228.69 L688.0,228.21 L688.5,228.47 L689.0,229.04 L689.5,229.38 L690.0,230.05 L690.5,229.95 L691.0,229.51 L691.5,229.04 L692.0,229.10 L692.5,229.97 L693.0,230.52 L693.5,230.99 L694.0,230.58 L694.5,230.02 L695.0,229.91 L695.5,230.15 L696.0,230.08 L696.5,229.06 L697.0,228.78" fill="none" stroke="#6b6be6" stroke-width="0.9"/>
<path d="M98.0,244.72 L98.5,244.98 L99.0,245.06 L99.5,245.29 L100.0,245.54 L100.5,245.79 L101.0,245.89 L101.5,245.91 L102.0,244.86 L102.5,245.12 L103.0,245.94 L103.5,246.67 L104.0,247.33 L104.5,247.57 L105.0,247.65 L105.5,247.65 L106.0,247.35 L106.5,246.73 L107.0,246.29 L107.5,246.31 L108.0,246.01 L108.5,246.30 L109.0,246.59 L109.5,246.85 L110.0,246.89 L110.5,245.94 L111.0,246.18 L111.5,246.29 L112.0,246.46 L112.5,245.75 L113.0,246.22 L113.5,245.93 L114.0,245.60 L114.5,245.10 L115.0,244.69 L115.5,244.75 L116.0,245.19 L116.5,245.61 L117.0,245.11 L117.5,245.12 L118.0,244.13 L118.5,244.22 L119.0,244.01 L119.5,244.37 L120.0,244.32 L120.5,243.76 L121.0,244.16 L121.5,244.14 L122.0,245.20 L122.5,244.84 L123.0,244.61 L123.5,244.75 L124.0,244.62 L124.5,244.82 L125.0,245.26 L125.5,245.30 L126.0,245.36 L126.5,245.19 L127.0,245.46 L127.5,245.51 L128.0,245.78 L128.5,245.24 L129.0,245.35 L129.5,246.21 L130.0,245.65 L130.5,245.75 L131.0,245.76 L131.5,246.67 L132.0,246.43 L132.5,246.41 L133.0,246.41 L133.5,245.79 L134.0,245.03 L134.5,244.64 L135.0,244.89 L135.5,245.48 L136.0,245.32 L136.5,245.02 L137.0,244.25 L137.5,244.25 L138.0,242.89 L138.5,244.14 L139.0,244.29 L139.5,245.89 L140.0,245.50 L140.5,245.15 L141.0,244.31 L141.5,244.08 L142.0,244.13 L142.5,244.68 L143.0,245.58 L143.5,244.95 L144.0,244.92 L144.5,244.78 L145.0,245.76 L145.5,245.95 L146.0,246.68 L146.5,246.01 L147.0,245.97 L147.5,244.22 L148.0,244.18 L148.5,244.66 L149.0,245.20 L149.5,245.24 L150.0,244.53 L150.5,244.46 L151.0,244.86 L151.5,244.74 L152.0,244.48 L152.5,245.44 L153.0,245.40 L153.5,245.26 L154.0,243.89 L154.5,244.09 L155.0,244.10 L155.5,244.72 L156.0,243.06 L156.5,243.19 L157.0,242.12 L157.5,242.21 L158.0,241.98 L158.5,241.56 L159.0,241.49 L159.5,240.62 L160.0,240.25 L160.5,240.90 L161.0,240.78 L161.5,239.95 L162.0,238.13 L162.5,238.16 L163.0,237.26 L163.5,238.08 L164.0,237.93 L164.5,238.01 L165.0,238.37 L165.5,237.15 L166.0,237.04 L166.5,237.03 L167.0,237.70 L167.5,238.49 L168.0,238.83 L168.5,239.36 L169.0,239.87 L169.5,239.71 L170.0,239.97 L170.5,240.25 L171.0,241.48 L171.5,240.69 L172.0,241.43 L172.5,240.88 L173.0,240.96 L173.5,240.11 L174.0,240.72 L174.5,241.86 L175.0,242.18 L175.5,242.62 L176.0,242.87 L176.5,243.06 L177.0,242.67 L177.5,241.97 L178.0,242.77 L178.5,243.70 L179.0,243.89 L179.5,243.22 L180.0,243.12 L180.5,243.58 L181.0,243.61 L181.5,244.12 L182.0,243.72 L182.5,244.28 L183.0,243.58 L183.5,243.77 L184.0,243.67 L184.5,243.45 L185.0,242.95 L185.5,242.81 L186.0,243.86 L186.5,243.55 L187.0,243.52 L187.5,243.00 L188.0,242.85 L188.5,242.91 L189.0,242.96 L189.5,243.43 L190.0,244.10 L190.5,243.80 L191.0,243.25 L191.5,243.42 L192.0,243.63 L192.5,243.87 L193.0,243.49 L193.5,243.92 L194.0,243.17 L194.5,243.11 L195.0,242.04 L195.5,242.90 L196.0,242.58 L196.5,241.90 L197.0,241.20 L197.5,241.88 L198.0,242.30 L198.5,241.83 L199.0,241.08 L199.5,240.52 L200.0,240.62 L200.5,239.77 L201.0,238.36 L201.5,237.16 L202.0,237.17 L202.5,236.51 L203.0,236.07 L203.5,234.27 L204.0,233.36 L204.5,232.04 L205.0,230.85 L205.5,229.55 L206.0,228.33 L206.5,227.63 L207.0,226.18 L207.5,225.00 L208.0,223.69 L208.5,222.61 L209.0,221.04 L209.5,220.11 L210.0,219.79 L210.5,219.18 L211.0,218.67 L211.5,218.51 L212.0,218.91 L212.5,219.61 L213.0,219.65 L213.5,220.03 L214.0,221.18 L214.5,221.06 L215.0,221.63 L215.5,221.97 L216.0,223.19 L216.5,224.01 L217.0,225.39 L217.5,227.05 L218.0,228.12 L218.5,230.01 L219.0,231.00 L219.5,232.40 L220.0,232.98 L220.5,233.89 L221.0,235.56 L221.5,236.24 L222.0,237.29 L222.5,237.88 L223.0,238.79 L223.5,238.35 L224.0,238.66 L224.5,239.08 L225.0,240.05 L225.5,241.12 L226.0,241.28 L226.5,241.39 L227.0,241.78 L227.5,242.00 L228.0,243.12 L228.5,243.17 L229.0,242.75 L229.5,242.65 L230.0,242.77 L230.5,243.15 L231.0,243.29 L231.5,243.02 L232.0,242.55 L232.5,242.68 L233.0,242.66 L233.5,242.31 L234.0,242.17 L234.5,241.96 L235.0,242.00 L235.5,241.34 L236.0,240.46 L236.5,240.70 L237.0,241.02 L237.5,241.30 L238.0,241.10 L238.5,240.87 L239.0,241.10 L239.5,241.36 L240.0,241.26 L240.5,241.93 L241.0,242.14 L241.5,242.24 L242.0,242.33 L242.5,242.07 L243.0,242.51 L243.5,241.79 L244.0,242.35 L244.5,241.91 L245.0,242.20 L245.5,241.75 L246.0,241.59 L246.5,241.81 L247.0,241.70 L247.5,242.30 L248.0,243.02 L248.5,242.66 L249.0,242.67 L249.5,242.77 L250.0,242.84 L250.5,242.76 L251.0,242.99 L251.5,242.98 L252.0,242.77 L252.5,241.70 L253.0,241.73 L253.5,242.45 L254.0,243.08 L254.5,242.25 L255.0,242.47 L255.5,242.99 L256.0,242.90 L256.5,242.50 L257.0,241.32 L257.5,241.56 L258.0,241.26 L258.5,241.30 L259.0,241.69 L259.5,242.05 L260.0,241.94 L260.5,241.32 L261.0,241.47 L261.5,242.35 L262.0,243.25 L262.5,242.17 L263.0,242.06 L263.5,242.40 L264.0,242.00 L264.5,241.96 L265.0,241.35 L265.5,242.17 L266.0,241.74 L266.5,241.38 L267.0,241.56 L267.5,241.69 L268.0,241.33 L268.5,241.15 L269.0,242.40 L269.5,241.82 L270.0,241.41 L270.5,240.71 L271.0,241.56 L271.5,241.82 L272.0,241.58 L272.5,242.09 L273.0,242.31 L273.5,242.94 L274.0,243.07 L274.5,243.67 L275.0,243.63 L275.5,242.91 L276.0,242.44 L276.5,241.90 L277.0,242.37 L277.5,242.56 L278.0,242.11 L278.5,241.53 L279.0,240.72 L279.5,240.59 L280.0,240.51 L280.5,240.96 L281.0,241.13 L281.5,241.73 L282.0,242.25 L282.5,242.25 L283.0,241.63 L283.5,241.31 L284.0,241.35 L284.5,241.90 L285.0,242.11 L285.5,241.94 L286.0,241.43 L286.5,241.41 L287.0,241.14 L287.5,241.21 L288.0,240.57 L288.5,240.50 L289.0,240.54 L289.5,241.15 L290.0,240.39 L290.5,240.62 L291.0,240.20 L291.5,239.90 L292.0,240.03 L292.5,240.28 L293.0,240.53 L293.5,239.84 L294.0,238.39 L294.5,237.07 L295.0,235.93 L295.5,235.19 L296.0,233.31 L296.5,232.04 L297.0,228.83 L297.5,225.86 L298.0,222.40 L298.5,219.12 L299.0,215.64 L299.5,211.40 L300.0,206.87 L300.5,200.38 L301.0,193.49 L301.5,185.77 L302.0,177.72 L302.5,169.04 L303.0,159.67 L303.5,150.46 L304.0,141.03 L304.5,130.48 L305.0,119.04 L305.5,107.94 L306.0,98.26 L306.5,88.38 L307.0,79.35 L307.5,70.87 L308.0,63.71 L308.5,56.69 L309.0,50.70 L309.5,46.45 L310.0,44.45 L310.5,44.19 L311.0,44.05 L311.5,45.35 L312.0,48.62 L312.5,53.20 L313.0,59.30 L313.5,66.02 L314.0,73.57 L314.5,81.86 L315.0,90.56 L315.5,100.08 L316.0,110.29 L316.5,120.92 L317.0,130.18 L317.5,139.83 L318.0,148.27 L318.5,157.42 L319.0,166.05 L319.5,175.49 L320.0,184.03 L320.5,190.23 L321.0,196.70 L321.5,201.82 L322.0,207.86 L322.5,212.25 L323.0,216.94 L323.5,220.40 L324.0,222.79 L324.5,224.84 L325.0,227.24 L325.5,230.12 L326.0,231.97 L326.5,233.45 L327.0,233.94 L327.5,234.48 L328.0,235.74 L328.5,236.41 L329.0,237.07 L329.5,236.62 L330.0,237.94 L330.5,238.70 L331.0,238.83 L331.5,238.55 L332.0,239.11 L332.5,239.87 L333.0,239.17 L333.5,238.38 L334.0,238.31 L334.5,238.47 L335.0,238.09 L335.5,237.21 L336.0,237.84 L336.5,238.19 L337.0,238.59 L337.5,238.43 L338.0,238.65 L338.5,238.02 L339.0,237.45 L339.5,236.61 L340.0,236.91 L340.5,238.07 L341.0,239.04 L341.5,238.55 L342.0,237.75 L342.5,237.53 L343.0,238.02 L343.5,238.36 L344.0,238.34 L344.5,238.47 L345.0,239.20 L345.5,239.75 L346.0,240.12 L346.5,240.37 L347.0,240.62 L347.5,240.80 L348.0,240.29 L348.5,240.02 L349.0,240.55 L349.5,240.62 L350.0,240.90 L350.5,240.65 L351.0,241.16 L351.5,240.24 L352.0,239.31 L352.5,238.85 L353.0,239.52 L353.5,239.28 L354.0,238.32 L354.5,238.35 L355.0,238.68 L355.5,238.68 L356.0,238.87 L356.5,238.79 L357.0,239.69 L357.5,239.29 L358.0,239.74 L358.5,239.61 L359.0,239.81 L359.5,239.16 L360.0,239.27 L360.5,239.85 L361.0,239.85 L361.5,239.67 L362.0,238.99 L362.5,239.23 L363.0,238.22 L363.5,238.42 L364.0,239.14 L364.5,240.13 L365.0,240.33 L365.5,239.89 L366.0,240.26 L366.5,240.03 L367.0,240.02 L367.5,240.54 L368.0,240.52 L368.5,240.66 L369.0,239.60 L369.5,240.35 L370.0,241.02 L370.5,240.63 L371.0,240.69 L371.5,240.78 L372.0,241.04 L372.5,240.77 L373.0,240.77 L373.5,240.40 L374.0,240.29 L374.5,239.81 L375.0,239.89 L375.5,240.90 L376.0,241.12 L376.5,240.72 L377.0,240.48 L377.5,239.53 L378.0,239.74 L378.5,240.11 L379.0,240.48 L379.5,240.49 L380.0,239.40 L380.5,239.59 L381.0,239.79 L381.5,240.47 L382.0,240.03 L382.5,239.38 L383.0,239.82 L383.5,239.53 L384.0,240.52 L384.5,240.41 L385.0,241.06 L385.5,240.01 L386.0,240.43 L386.5,240.74 L387.0,241.50 L387.5,241.25 L388.0,240.75 L388.5,241.12 L389.0,241.28 L389.5,241.61 L390.0,241.18 L390.5,241.83 L391.0,241.05 L391.5,241.30 L392.0,239.87 L392.5,240.11 L393.0,240.77 L393.5,241.75 L394.0,242.10 L394.5,241.61 L395.0,240.59 L395.5,239.92 L396.0,239.91 L396.5,240.08 L397.0,240.05 L397.5,240.93 L398.0,241.28 L398.5,241.54 L399.0,240.86 L399.5,240.32 L400.0,240.14 L400.5,240.28 L401.0,241.30 L401.5,241.52 L402.0,241.31 L402.5,240.17 L403.0,239.68 L403.5,240.14 L404.0,241.18 L404.5,241.36 L405.0,241.64 L405.5,241.13 L406.0,241.25 L406.5,241.68 L407.0,241.73 L407.5,242.28 L408.0,241.61 L408.5,241.99 L409.0,241.34 L409.5,241.61 L410.0,242.05 L410.5,241.42 L411.0,241.11 L411.5,240.06 L412.0,240.90 L412.5,241.27 L413.0,241.78 L413.5,241.13 L414.0,240.35 L414.5,240.34 L415.0,240.28 L415.5,240.83 L416.0,240.66 L416.5,240.68 L417.0,240.37 L417.5,240.26 L418.0,240.29 L418.5,240.42 L419.0,240.34 L419.5,240.69 L420.0,240.58 L420.5,241.00 L421.0,241.12 L421.5,240.96 L422.0,241.32 L422.5,241.54 L423.0,241.77 L423.5,241.94 L424.0,241.10 L424.5,241.79 L425.0,242.06 L425.5,242.80 L426.0,241.99 L426.5,242.45 L427.0,241.97 L427.5,242.10 L428.0,241.68 L428.5,241.71 L429.0,241.42 L429.5,241.76 L430.0,241.03 L430.5,240.29 L431.0,239.14 L431.5,239.39 L432.0,239.41 L432.5,240.91 L433.0,241.54 L433.5,241.89 L434.0,241.49 L434.5,240.32 L435.0,240.94 L435.5,240.18 L436.0,240.30 L436.5,240.94 L437.0,241.48 L437.5,241.65 L438.0,240.88 L438.5,240.87 L439.0,240.75 L439.5,241.32 L440.0,241.00 L440.5,240.44 L441.0,239.64 L441.5,239.66 L442.0,240.37 L442.5,239.62 L443.0,239.51 L443.5,239.56 L444.0,240.39 L444.5,240.35 L445.0,240.08 L445.5,240.13 L446.0,240.18 L446.5,240.18 L447.0,239.96 L447.5,240.18 L448.0,240.88 L448.5,240.97 L449.0,240.85 L449.5,240.84 L450.0,240.94 L450.5,240.85 L451.0,241.07 L451.5,241.06 L452.0,240.93 L452.5,241.01 L453.0,241.65 L453.5,241.94 L454.0,241.94 L454.5,241.52 L455.0,240.86 L455.5,241.08 L456.0,241.22 L456.5,241.71 L457.0,241.38 L457.5,241.74 L458.0,241.07 L458.5,240.75 L459.0,240.88 L459.5,241.50 L460.0,241.07 L460.5,239.53 L461.0,238.79 L461.5,238.56 L462.0,239.49 L462.5,239.35 L463.0,240.38 L463.5,240.46 L464.0,240.16 L464.5,239.40 L465.0,239.60 L465.5,239.34 L466.0,239.64 L466.5,239.59 L467.0,240.57 L467.5,240.42 L468.0,240.63 L468.5,240.13 L469.0,240.40 L469.5,240.20 L470.0,240.19 L470.5,240.35 L471.0,241.00 L471.5,241.55 L472.0,241.43 L472.5,241.32 L473.0,240.84 L473.5,241.26 L474.0,240.89 L474.5,240.79 L475.0,240.48 L475.5,240.34 L476.0,240.23 L476.5,239.92 L477.0,239.68 L477.5,239.32 L478.0,240.16 L478.5,240.74 L479.0,241.64 L479.5,241.76 L480.0,241.18 L480.5,241.28 L481.0,241.39 L481.5,241.14 L482.0,241.16 L482.5,240.60 L483.0,241.01 L483.5,240.20 L484.0,240.12 L484.5,238.61 L485.0,238.73 L485.5,238.30 L486.0,238.54 L486.5,237.87 L487.0,237.49 L487.5,236.22 L488.0,235.58 L488.5,234.37 L489.0,233.71 L489.5,232.83 L490.0,231.96 L490.5,230.82 L491.0,230.63 L491.5,230.99 L492.0,230.08 L492.5,230.29 L493.0,230.27 L493.5,231.68 L494.0,232.94 L494.5,233.84 L495.0,234.95 L495.5,236.10 L496.0,236.95 L496.5,237.15 L497.0,237.92 L497.5,238.46 L498.0,239.15 L498.5,240.12 L499.0,239.96 L499.5,241.41 L500.0,241.03 L500.5,241.90 L501.0,241.28 L501.5,242.13 L502.0,241.78 L502.5,242.09 L503.0,242.56 L503.5,241.39 L504.0,242.58 L504.5,241.83 L505.0,241.83 L505.5,240.82 L506.0,240.11 L506.5,239.55 L507.0,239.34 L507.5,239.71 L508.0,239.72 L508.5,240.33 L509.0,240.13 L509.5,240.81 L510.0,240.68 L510.5,240.66 L511.0,241.06 L511.5,241.33 L512.0,241.79 L512.5,241.37 L513.0,241.92 L513.5,242.44 L514.0,243.12 L514.5,242.95 L515.0,242.33 L515.5,241.99 L516.0,241.70 L516.5,241.50 L517.0,240.84 L517.5,240.95 L518.0,240.76 L518.5,241.33 L519.0,241.56 L519.5,241.97 L520.0,242.15 L520.5,241.46 L521.0,240.80 L521.5,239.87 L522.0,238.99 L522.5,238.99 L523.0,238.85 L523.5,239.47 L524.0,239.38 L524.5,238.76 L525.0,237.60 L525.5,236.48 L526.0,235.60 L526.5,234.13 L527.0,232.11 L527.5,229.25 L528.0,226.99 L528.5,223.25 L529.0,219.02 L529.5,214.03 L530.0,208.59 L530.5,203.08 L531.0,198.00 L531.5,192.91 L532.0,189.07 L532.5,185.28 L533.0,182.91 L533.5,182.20 L534.0,183.39 L534.5,185.22 L535.0,187.88 L535.5,191.32 L536.0,195.22 L536.5,200.09 L537.0,204.86 L537.5,208.94 L538.0,213.15 L538.5,216.98 L539.0,220.89 L539.5,225.09 L540.0,228.51 L540.5,230.84 L541.0,232.44 L541.5,232.96 L542.0,234.12 L542.5,235.71 L543.0,237.00 L543.5,237.52 L544.0,237.62 L544.5,236.18 L545.0,235.58 L545.5,234.79 L546.0,234.24 L546.5,233.69 L547.0,232.88 L547.5,230.77 L548.0,228.23 L548.5,224.82 L549.0,220.65 L549.5,215.69 L550.0,209.97 L550.5,202.56 L551.0,194.69 L551.5,185.24 L552.0,175.48 L552.5,165.70 L553.0,156.43 L553.5,148.33 L554.0,142.60 L554.5,138.37 L555.0,135.52 L555.5,136.54 L556.0,138.00 L556.5,141.92 L557.0,146.47 L557.5,152.06 L558.0,159.36 L558.5,167.35 L559.0,176.56 L559.5,184.79 L560.0,192.45 L560.5,199.43 L561.0,205.16 L561.5,210.64 L562.0,215.94 L562.5,221.09 L563.0,226.11 L563.5,228.97 L564.0,230.80 L564.5,232.21 L565.0,233.09 L565.5,234.16 L566.0,235.72 L566.5,236.45 L567.0,236.64 L567.5,236.80 L568.0,237.12 L568.5,238.75 L569.0,239.52 L569.5,239.53 L570.0,238.92 L570.5,239.69 L571.0,240.64 L571.5,240.62 L572.0,240.82 L572.5,240.75 L573.0,241.56 L573.5,241.24 L574.0,241.17 L574.5,240.81 L575.0,241.12 L575.5,241.45 L576.0,241.60 L576.5,241.99 L577.0,241.54 L577.5,241.82 L578.0,241.60 L578.5,240.73 L579.0,240.03 L579.5,239.86 L580.0,240.21 L580.5,240.23 L581.0,239.97 L581.5,239.79 L582.0,239.23 L582.5,239.92 L583.0,240.23 L583.5,240.91 L584.0,241.21 L584.5,240.64 L585.0,240.12 L585.5,239.58 L586.0,239.94 L586.5,239.37 L587.0,239.64 L587.5,239.68 L588.0,240.40 L588.5,240.47 L589.0,239.45 L589.5,238.72 L590.0,238.64 L590.5,238.32 L591.0,238.28 L591.5,238.22 L592.0,238.07 L592.5,237.42 L593.0,236.32 L593.5,234.58 L594.0,233.34 L594.5,231.76 L595.0,229.23 L595.5,226.36 L596.0,222.80 L596.5,219.09 L597.0,215.05 L597.5,210.92 L598.0,205.70 L598.5,200.29 L599.0,196.17 L599.5,193.00 L600.0,190.36 L600.5,187.93 L601.0,186.93 L601.5,188.02 L602.0,190.00 L602.5,192.40 L603.0,194.78 L603.5,197.86 L604.0,200.58 L604.5,204.92 L605.0,209.55 L605.5,213.98 L606.0,218.05 L606.5,221.18 L607.0,224.22 L607.5,226.79 L608.0,230.14 L608.5,232.15 L609.0,233.78 L609.5,234.72 L610.0,235.07 L610.5,236.53 L611.0,236.96 L611.5,237.94 L612.0,237.79 L612.5,238.00 L613.0,238.06 L613.5,238.54 L614.0,239.35 L614.5,239.51 L615.0,239.28 L615.5,238.97 L616.0,239.80 L616.5,240.86 L617.0,241.14 L617.5,241.21 L618.0,240.76 L618.5,241.32 L619.0,241.29 L619.5,241.40 L620.0,240.82 L620.5,241.45 L621.0,241.24 L621.5,241.28 L622.0,239.63 L622.5,239.36 L623.0,239.53 L623.5,240.31 L624.0,240.09 L624.5,240.74 L625.0,241.15 L625.5,240.52 L626.0,240.48 L626.5,240.44 L627.0,241.64 L627.5,242.06 L628.0,241.80 L628.5,241.23 L629.0,241.21 L629.5,241.49 L630.0,240.89 L630.5,240.03 L631.0,239.50 L631.5,239.78 L632.0,241.10 L632.5,240.98 L633.0,241.35 L633.5,239.85 L634.0,240.52 L634.5,239.70 L635.0,240.55 L635.5,240.03 L636.0,240.61 L636.5,240.57 L637.0,240.31 L637.5,240.31 L638.0,240.24 L638.5,240.69 L639.0,240.21 L639.5,240.25 L640.0,240.32 L640.5,240.39 L641.0,240.15 L641.5,240.22 L642.0,240.54 L642.5,240.63 L643.0,239.46 L643.5,239.51 L644.0,238.85 L644.5,239.46 L645.0,238.86 L645.5,240.37 L646.0,239.95 L646.5,240.87 L647.0,239.64 L647.5,239.87 L648.0,239.77 L648.5,240.80 L649.0,241.76 L649.5,242.46 L650.0,242.05 L650.5,240.96 L651.0,240.70 L651.5,240.74 L652.0,241.11 L652.5,241.19 L653.0,240.33 L653.5,239.93 L654.0,240.58 L654.5,240.53 L655.0,240.32 L655.5,240.46 L656.0,240.38 L656.5,240.37 L657.0,240.32 L657.5,240.74 L658.0,240.66 L658.5,240.98 L659.0,240.36 L659.5,240.44 L660.0,240.17 L660.5,240.17 L661.0,239.73 L661.5,239.92 L662.0,239.47 L662.5,239.78 L663.0,239.87 L663.5,239.61 L664.0,239.44 L664.5,239.71 L665.0,239.31 L665.5,239.04 L666.0,239.03 L666.5,239.81 L667.0,239.76 L667.5,240.10 L668.0,240.16 L668.5,240.02 L669.0,239.69 L669.5,239.32 L670.0,239.99 L670.5,239.78 L671.0,239.60 L671.5,238.36 L672.0,239.41 L672.5,239.73 L673.0,239.90 L673.5,240.48 L674.0,240.00 L674.5,239.75 L675.0,239.42 L675.5,240.38 L676.0,240.65 L676.5,240.65 L677.0,239.81 L677.5,240.18 L678.0,240.93 L678.5,240.83 L679.0,240.13 L679.5,240.64 L680.0,240.85 L680.5,240.56 L681.0,240.50 L681.5,240.51 L682.0,240.45 L682.5,240.07 L683.0,240.04 L683.5,240.55 L684.0,240.41 L684.5,240.73 L685.0,240.74 L685.5,241.39 L686.0,240.02 L686.5,240.59 L687.0,241.31 L687.5,242.26 L688.0,241.89 L688.5,240.96 L689.0,241.59 L689.5,241.83 L690.0,242.72 L690.5,242.59 L691.0,241.73 L691.5,240.90 L692.0,239.33 L692.5,240.34 L693.0,240.15 L693.5,241.00 L694.0,241.07 L694.5,241.03 L695.0,241.11 L695.5,240.79 L696.0,240.88 L696.5,241.06 L697.0,241.52" fill="none" stroke="#4a4a4a" stroke-width="0.9"/>
<line x1="97.20" y1="273.60" x2="97.20" y2="463.30" stroke="#1e1e1e" stroke-width="1.5"/>
<line x1="90.90" y1="458.80" x2="97.20" y2="458.80" stroke="#333" stroke-width="1.1"/>
<text x="90.40" y="461.70" font-size="9.6" text-anchor="end" fill="#333" font-weight="normal" textLength="21.5" lengthAdjust="spacingAndGlyphs" stroke="#333" stroke-width="0.45">0.00</text>
<line x1="93.90" y1="449.82" x2="97.20" y2="449.82" stroke="#333" stroke-width="1"/>
<line x1="93.90" y1="440.84" x2="97.20" y2="440.84" stroke="#333" stroke-width="1"/>
<line x1="93.90" y1="431.86" x2="97.20" y2="431.86" stroke="#333" stroke-width="1"/>
<line x1="93.90" y1="422.88" x2="97.20" y2="422.88" stroke="#333" stroke-width="1"/>
<line x1="90.90" y1="413.90" x2="97.20" y2="413.90" stroke="#333" stroke-width="1.1"/>
<text x="90.40" y="416.80" font-size="9.6" text-anchor="end" fill="#333" font-weight="normal" textLength="21.5" lengthAdjust="spacingAndGlyphs" stroke="#333" stroke-width="0.45">1.00</text>
<line x1="93.90" y1="404.92" x2="97.20" y2="404.92" stroke="#333" stroke-width="1"/>
<line x1="93.90" y1="395.94" x2="97.20" y2="395.94" stroke="#333" stroke-width="1"/>
<line x1="93.90" y1="386.96" x2="97.20" y2="386.96" stroke="#333" stroke-width="1"/>
<line x1="93.90" y1="377.98" x2="97.20" y2="377.98" stroke="#333" stroke-width="1"/>
<line x1="90.90" y1="369.00" x2="97.20" y2="369.00" stroke="#333" stroke-width="1.1"/>
<text x="90.40" y="371.90" font-size="9.6" text-anchor="end" fill="#333" font-weight="normal" textLength="21.5" lengthAdjust="spacingAndGlyphs" stroke="#333" stroke-width="0.45">2.00</text>
<line x1="93.90" y1="360.02" x2="97.20" y2="360.02" stroke="#333" stroke-width="1"/>
<line x1="93.90" y1="351.04" x2="97.20" y2="351.04" stroke="#333" stroke-width="1"/>
<line x1="93.90" y1="342.06" x2="97.20" y2="342.06" stroke="#333" stroke-width="1"/>
<line x1="93.90" y1="333.08" x2="97.20" y2="333.08" stroke="#333" stroke-width="1"/>
<line x1="90.90" y1="324.10" x2="97.20" y2="324.10" stroke="#333" stroke-width="1.1"/>
<text x="90.40" y="327.00" font-size="9.6" text-anchor="end" fill="#333" font-weight="normal" textLength="21.5" lengthAdjust="spacingAndGlyphs" stroke="#333" stroke-width="0.45">3.00</text>
<line x1="93.90" y1="315.12" x2="97.20" y2="315.12" stroke="#333" stroke-width="1"/>
<line x1="93.90" y1="306.14" x2="97.20" y2="306.14" stroke="#333" stroke-width="1"/>
<line x1="93.90" y1="297.16" x2="97.20" y2="297.16" stroke="#333" stroke-width="1"/>
<line x1="93.90" y1="288.18" x2="97.20" y2="288.18" stroke="#333" stroke-width="1"/>
<line x1="90.90" y1="279.20" x2="97.20" y2="279.20" stroke="#333" stroke-width="1.1"/>
<text x="90.40" y="282.10" font-size="9.6" text-anchor="end" fill="#333" font-weight="normal" textLength="21.5" lengthAdjust="spacingAndGlyphs" stroke="#333" stroke-width="0.45">4.00</text>
<line x1="97.20" y1="458.80" x2="697.00" y2="458.80" stroke="#2a2a2a" stroke-width="1.3"/>
<text x="97.20" y="473.00" font-size="9.6" text-anchor="middle" fill="#333" font-weight="normal" textLength="27.8" lengthAdjust="spacingAndGlyphs" stroke="#333" stroke-width="0.45">28.00</text>
<line x1="108.38" y1="458.80" x2="108.38" y2="461.80" stroke="#333" stroke-width="1"/>
<line x1="119.56" y1="458.80" x2="119.56" y2="461.80" stroke="#333" stroke-width="1"/>
<line x1="130.74" y1="458.80" x2="130.74" y2="461.80" stroke="#333" stroke-width="1"/>
<line x1="141.92" y1="458.80" x2="141.92" y2="461.80" stroke="#333" stroke-width="1"/>
<line x1="153.10" y1="458.80" x2="153.10" y2="463.30" stroke="#333" stroke-width="1.1"/>
<text x="153.10" y="473.00" font-size="9.6" text-anchor="middle" fill="#333" font-weight="normal" textLength="27.8" lengthAdjust="spacingAndGlyphs" stroke="#333" stroke-width="0.45">29.00</text>
<line x1="164.28" y1="458.80" x2="164.28" y2="461.80" stroke="#333" stroke-width="1"/>
<line x1="175.46" y1="458.80" x2="175.46" y2="461.80" stroke="#333" stroke-width="1"/>
<line x1="186.64" y1="458.80" x2="186.64" y2="461.80" stroke="#333" stroke-width="1"/>
<line x1="197.82" y1="458.80" x2="197.82" y2="461.80" stroke="#333" stroke-width="1"/>
<line x1="209.00" y1="458.80" x2="209.00" y2="463.30" stroke="#333" stroke-width="1.1"/>
<text x="209.00" y="473.00" font-size="9.6" text-anchor="middle" fill="#333" font-weight="normal" textLength="27.8" lengthAdjust="spacingAndGlyphs" stroke="#333" stroke-width="0.45">30.00</text>
<line x1="220.18" y1="458.80" x2="220.18" y2="461.80" stroke="#333" stroke-width="1"/>
<line x1="231.36" y1="458.80" x2="231.36" y2="461.80" stroke="#333" stroke-width="1"/>
<line x1="242.54" y1="458.80" x2="242.54" y2="461.80" stroke="#333" stroke-width="1"/>
<line x1="253.72" y1="458.80" x2="253.72" y2="461.80" stroke="#333" stroke-width="1"/>
<line x1="264.90" y1="458.80" x2="264.90" y2="463.30" stroke="#333" stroke-width="1.1"/>
<text x="264.90" y="473.00" font-size="9.6" text-anchor="middle" fill="#333" font-weight="normal" textLength="27.8" lengthAdjust="spacingAndGlyphs" stroke="#333" stroke-width="0.45">31.00</text>
<line x1="276.08" y1="458.80" x2="276.08" y2="461.80" stroke="#333" stroke-width="1"/>
<line x1="287.26" y1="458.80" x2="287.26" y2="461.80" stroke="#333" stroke-width="1"/>
<line x1="298.44" y1="458.80" x2="298.44" y2="461.80" stroke="#333" stroke-width="1"/>
<line x1="309.62" y1="458.80" x2="309.62" y2="461.80" stroke="#333" stroke-width="1"/>
<line x1="320.80" y1="458.80" x2="320.80" y2="463.30" stroke="#333" stroke-width="1.1"/>
<text x="320.80" y="473.00" font-size="9.6" text-anchor="middle" fill="#333" font-weight="normal" textLength="27.8" lengthAdjust="spacingAndGlyphs" stroke="#333" stroke-width="0.45">32.00</text>
<line x1="331.98" y1="458.80" x2="331.98" y2="461.80" stroke="#333" stroke-width="1"/>
<line x1="343.16" y1="458.80" x2="343.16" y2="461.80" stroke="#333" stroke-width="1"/>
<line x1="354.34" y1="458.80" x2="354.34" y2="461.80" stroke="#333" stroke-width="1"/>
<line x1="365.52" y1="458.80" x2="365.52" y2="461.80" stroke="#333" stroke-width="1"/>
<line x1="376.70" y1="458.80" x2="376.70" y2="463.30" stroke="#333" stroke-width="1.1"/>
<text x="376.70" y="473.00" font-size="9.6" text-anchor="middle" fill="#333" font-weight="normal" textLength="27.8" lengthAdjust="spacingAndGlyphs" stroke="#333" stroke-width="0.45">33.00</text>
<line x1="387.88" y1="458.80" x2="387.88" y2="461.80" stroke="#333" stroke-width="1"/>
<line x1="399.06" y1="458.80" x2="399.06" y2="461.80" stroke="#333" stroke-width="1"/>
<line x1="410.24" y1="458.80" x2="410.24" y2="461.80" stroke="#333" stroke-width="1"/>
<line x1="421.42" y1="458.80" x2="421.42" y2="461.80" stroke="#333" stroke-width="1"/>
<line x1="432.60" y1="458.80" x2="432.60" y2="463.30" stroke="#333" stroke-width="1.1"/>
<text x="432.60" y="473.00" font-size="9.6" text-anchor="middle" fill="#333" font-weight="normal" textLength="27.8" lengthAdjust="spacingAndGlyphs" stroke="#333" stroke-width="0.45">34.00</text>
<line x1="443.78" y1="458.80" x2="443.78" y2="461.80" stroke="#333" stroke-width="1"/>
<line x1="454.96" y1="458.80" x2="454.96" y2="461.80" stroke="#333" stroke-width="1"/>
<line x1="466.14" y1="458.80" x2="466.14" y2="461.80" stroke="#333" stroke-width="1"/>
<line x1="477.32" y1="458.80" x2="477.32" y2="461.80" stroke="#333" stroke-width="1"/>
<line x1="488.50" y1="458.80" x2="488.50" y2="463.30" stroke="#333" stroke-width="1.1"/>
<text x="488.50" y="473.00" font-size="9.6" text-anchor="middle" fill="#333" font-weight="normal" textLength="27.8" lengthAdjust="spacingAndGlyphs" stroke="#333" stroke-width="0.45">35.00</text>
<line x1="499.68" y1="458.80" x2="499.68" y2="461.80" stroke="#333" stroke-width="1"/>
<line x1="510.86" y1="458.80" x2="510.86" y2="461.80" stroke="#333" stroke-width="1"/>
<line x1="522.04" y1="458.80" x2="522.04" y2="461.80" stroke="#333" stroke-width="1"/>
<line x1="533.22" y1="458.80" x2="533.22" y2="461.80" stroke="#333" stroke-width="1"/>
<line x1="544.40" y1="458.80" x2="544.40" y2="463.30" stroke="#333" stroke-width="1.1"/>
<text x="544.40" y="473.00" font-size="9.6" text-anchor="middle" fill="#333" font-weight="normal" textLength="27.8" lengthAdjust="spacingAndGlyphs" stroke="#333" stroke-width="0.45">36.00</text>
<line x1="555.58" y1="458.80" x2="555.58" y2="461.80" stroke="#333" stroke-width="1"/>
<line x1="566.76" y1="458.80" x2="566.76" y2="461.80" stroke="#333" stroke-width="1"/>
<line x1="577.94" y1="458.80" x2="577.94" y2="461.80" stroke="#333" stroke-width="1"/>
<line x1="589.12" y1="458.80" x2="589.12" y2="461.80" stroke="#333" stroke-width="1"/>
<line x1="600.30" y1="458.80" x2="600.30" y2="463.30" stroke="#333" stroke-width="1.1"/>
<text x="600.30" y="473.00" font-size="9.6" text-anchor="middle" fill="#333" font-weight="normal" textLength="27.8" lengthAdjust="spacingAndGlyphs" stroke="#333" stroke-width="0.45">37.00</text>
<line x1="611.48" y1="458.80" x2="611.48" y2="461.80" stroke="#333" stroke-width="1"/>
<line x1="622.66" y1="458.80" x2="622.66" y2="461.80" stroke="#333" stroke-width="1"/>
<line x1="633.84" y1="458.80" x2="633.84" y2="461.80" stroke="#333" stroke-width="1"/>
<line x1="645.02" y1="458.80" x2="645.02" y2="461.80" stroke="#333" stroke-width="1"/>
<line x1="656.20" y1="458.80" x2="656.20" y2="463.30" stroke="#333" stroke-width="1.1"/>
<text x="656.20" y="473.00" font-size="9.6" text-anchor="middle" fill="#333" font-weight="normal" textLength="27.8" lengthAdjust="spacingAndGlyphs" stroke="#333" stroke-width="0.45">38.00</text>
<line x1="667.38" y1="458.80" x2="667.38" y2="461.80" stroke="#333" stroke-width="1"/>
<line x1="678.56" y1="458.80" x2="678.56" y2="461.80" stroke="#333" stroke-width="1"/>
<line x1="689.74" y1="458.80" x2="689.74" y2="461.80" stroke="#333" stroke-width="1"/>
<path d="M98.0,454.74 L98.5,454.31 L99.0,453.85 L99.5,454.59 L100.0,455.03 L100.5,454.58 L101.0,453.53 L101.5,453.34 L102.0,454.12 L102.5,454.67 L103.0,454.58 L103.5,454.26 L104.0,454.15 L104.5,454.22 L105.0,454.33 L105.5,454.24 L106.0,454.98 L106.5,455.09 L107.0,455.18 L107.5,454.36 L108.0,454.84 L108.5,454.71 L109.0,455.22 L109.5,454.66 L110.0,454.88 L110.5,454.91 L111.0,455.33 L111.5,455.36 L112.0,455.96 L112.5,456.03 L113.0,454.96 L113.5,454.38 L114.0,453.41 L114.5,454.49 L115.0,454.29 L115.5,454.63 L116.0,454.09 L116.5,453.67 L117.0,453.48 L117.5,453.20 L118.0,454.11 L118.5,453.98 L119.0,454.18 L119.5,453.10 L120.0,452.73 L120.5,452.37 L121.0,453.38 L121.5,454.05 L122.0,454.50 L122.5,454.13 L123.0,454.29 L123.5,453.95 L124.0,453.98 L124.5,453.23 L125.0,452.91 L125.5,453.15 L126.0,453.20 L126.5,453.34 L127.0,453.25 L127.5,452.88 L128.0,452.91 L128.5,451.67 L129.0,451.24 L129.5,451.54 L130.0,452.49 L130.5,452.63 L131.0,452.96 L131.5,453.87 L132.0,453.89 L132.5,453.62 L133.0,453.17 L133.5,454.12 L134.0,454.06 L134.5,454.48 L135.0,453.88 L135.5,454.64 L136.0,453.59 L136.5,454.33 L137.0,454.09 L137.5,453.97 L138.0,454.07 L138.5,453.27 L139.0,452.73 L139.5,452.40 L140.0,453.24 L140.5,452.99 L141.0,452.95 L141.5,452.59 L142.0,453.51 L142.5,454.72 L143.0,454.35 L143.5,453.59 L144.0,453.39 L144.5,453.18 L145.0,453.56 L145.5,453.64 L146.0,453.97 L146.5,453.89 L147.0,454.13 L147.5,453.21 L148.0,452.95 L148.5,453.11 L149.0,453.28 L149.5,453.38 L150.0,453.13 L150.5,453.17 L151.0,453.36 L151.5,453.39 L152.0,453.78 L152.5,452.99 L153.0,452.75 L153.5,451.50 L154.0,451.89 L154.5,452.64 L155.0,452.44 L155.5,452.09 L156.0,451.16 L156.5,451.82 L157.0,451.95 L157.5,450.98 L158.0,451.03 L158.5,450.24 L159.0,450.38 L159.5,449.82 L160.0,449.85 L160.5,450.21 L161.0,449.62 L161.5,449.03 L162.0,448.95 L162.5,449.01 L163.0,448.62 L163.5,447.54 L164.0,448.06 L164.5,448.50 L165.0,448.99 L165.5,447.98 L166.0,447.68 L166.5,448.19 L167.0,448.25 L167.5,449.08 L168.0,449.59 L168.5,450.35 L169.0,449.80 L169.5,449.58 L170.0,450.00 L170.5,449.83 L171.0,450.13 L171.5,450.22 L172.0,450.22 L172.5,449.48 L173.0,448.83 L173.5,448.95 L174.0,449.03 L174.5,449.44 L175.0,449.43 L175.5,450.04 L176.0,449.57 L176.5,450.02 L177.0,449.83 L177.5,450.64 L178.0,450.26 L178.5,450.07 L179.0,450.50 L179.5,450.34 L180.0,451.83 L180.5,451.81 L181.0,453.13 L181.5,452.83 L182.0,453.18 L182.5,453.08 L183.0,452.80 L183.5,452.81 L184.0,452.24 L184.5,452.46 L185.0,451.65 L185.5,451.76 L186.0,451.77 L186.5,451.92 L187.0,450.99 L187.5,450.64 L188.0,451.21 L188.5,451.53 L189.0,451.27 L189.5,451.16 L190.0,451.27 L190.5,451.11 L191.0,451.23 L191.5,451.54 L192.0,452.73 L192.5,452.95 L193.0,452.84 L193.5,453.81 L194.0,454.26 L194.5,453.50 L195.0,452.65 L195.5,453.01 L196.0,453.11 L196.5,453.61 L197.0,452.68 L197.5,452.59 L198.0,452.45 L198.5,451.32 L199.0,450.95 L199.5,450.97 L200.0,451.22 L200.5,450.97 L201.0,450.90 L201.5,451.13 L202.0,450.96 L202.5,451.20 L203.0,451.34 L203.5,451.27 L204.0,450.89 L204.5,450.24 L205.0,449.55 L205.5,448.76 L206.0,447.39 L206.5,446.24 L207.0,445.87 L207.5,445.74 L208.0,444.09 L208.5,442.77 L209.0,441.49 L209.5,441.14 L210.0,440.13 L210.5,438.53 L211.0,437.32 L211.5,436.63 L212.0,435.59 L212.5,433.61 L213.0,433.15 L213.5,432.68 L214.0,432.20 L214.5,431.90 L215.0,432.48 L215.5,433.26 L216.0,433.85 L216.5,434.28 L217.0,434.10 L217.5,434.36 L218.0,434.60 L218.5,434.68 L219.0,436.69 L219.5,437.69 L220.0,438.30 L220.5,439.75 L221.0,440.49 L221.5,441.56 L222.0,442.04 L222.5,443.65 L223.0,444.77 L223.5,445.61 L224.0,445.89 L224.5,447.24 L225.0,448.33 L225.5,447.97 L226.0,447.99 L226.5,449.09 L227.0,449.95 L227.5,450.56 L228.0,450.85 L228.5,451.23 L229.0,451.95 L229.5,452.54 L230.0,453.05 L230.5,453.41 L231.0,452.95 L231.5,453.06 L232.0,452.69 L232.5,452.79 L233.0,452.70 L233.5,452.87 L234.0,452.53 L234.5,452.55 L235.0,452.80 L235.5,453.77 L236.0,453.32 L236.5,453.72 L237.0,453.78 L237.5,454.91 L238.0,455.25 L238.5,454.93 L239.0,454.24 L239.5,453.52 L240.0,453.71 L240.5,453.26 L241.0,453.98 L241.5,453.29 L242.0,453.28 L242.5,452.48 L243.0,452.76 L243.5,452.96 L244.0,453.20 L244.5,452.77 L245.0,452.19 L245.5,452.12 L246.0,451.97 L246.5,452.85 L247.0,452.71 L247.5,452.47 L248.0,451.96 L248.5,452.03 L249.0,452.77 L249.5,453.37 L250.0,453.24 L250.5,453.30 L251.0,453.24 L251.5,453.03 L252.0,453.39 L252.5,452.89 L253.0,454.09 L253.5,453.43 L254.0,454.16 L254.5,453.78 L255.0,453.60 L255.5,452.38 L256.0,451.86 L256.5,451.95 L257.0,452.96 L257.5,452.50 L258.0,452.35 L258.5,451.95 L259.0,452.53 L259.5,452.81 L260.0,453.19 L260.5,453.29 L261.0,453.46 L261.5,453.88 L262.0,453.62 L262.5,453.91 L263.0,453.68 L263.5,453.60 L264.0,453.44 L264.5,452.86 L265.0,452.70 L265.5,453.09 L266.0,453.57 L266.5,453.48 L267.0,453.29 L267.5,452.42 L268.0,452.20 L268.5,452.82 L269.0,453.83 L269.5,453.59 L270.0,453.12 L270.5,452.76 L271.0,453.09 L271.5,453.24 L272.0,453.28 L272.5,453.56 L273.0,453.92 L273.5,453.46 L274.0,453.13 L274.5,453.49 L275.0,452.95 L275.5,453.10 L276.0,452.51 L276.5,452.44 L277.0,452.60 L277.5,452.87 L278.0,453.49 L278.5,452.64 L279.0,451.83 L279.5,451.67 L280.0,452.52 L280.5,452.07 L281.0,451.73 L281.5,451.33 L282.0,452.67 L282.5,453.34 L283.0,453.98 L283.5,453.28 L284.0,453.31 L284.5,452.51 L285.0,452.56 L285.5,452.93 L286.0,452.56 L286.5,452.82 L287.0,452.25 L287.5,452.73 L288.0,453.24 L288.5,453.36 L289.0,453.61 L289.5,453.14 L290.0,453.79 L290.5,453.66 L291.0,454.10 L291.5,453.17 L292.0,453.25 L292.5,452.99 L293.0,453.95 L293.5,453.62 L294.0,454.14 L294.5,454.29 L295.0,454.22 L295.5,453.77 L296.0,453.41 L296.5,453.47 L297.0,453.44 L297.5,453.69 L298.0,453.91 L298.5,454.55 L299.0,454.41 L299.5,453.73 L300.0,454.03 L300.5,453.86 L301.0,453.68 L301.5,452.94 L302.0,453.22 L302.5,452.82 L303.0,452.84 L303.5,452.68 L304.0,452.52 L304.5,452.44 L305.0,452.00 L305.5,452.01 L306.0,452.53 L306.5,452.60 L307.0,452.50 L307.5,452.87 L308.0,452.15 L308.5,452.56 L309.0,453.03 L309.5,453.58 L310.0,453.28 L310.5,452.14 L311.0,451.76 L311.5,451.51 L312.0,451.93 L312.5,452.01 L313.0,452.77 L313.5,452.34 L314.0,451.90 L314.5,451.56 L315.0,450.70 L315.5,450.35 L316.0,451.09 L316.5,452.42 L317.0,453.05 L317.5,452.29 L318.0,452.04 L318.5,451.94 L319.0,452.22 L319.5,452.90 L320.0,452.39 L320.5,452.85 L321.0,452.06 L321.5,452.83 L322.0,452.22 L322.5,452.52 L323.0,452.39 L323.5,452.76 L324.0,452.73 L324.5,452.52 L325.0,453.21 L325.5,452.90 L326.0,452.77 L326.5,452.60 L327.0,453.56 L327.5,452.78 L328.0,453.00 L328.5,452.61 L329.0,453.33 L329.5,452.66 L330.0,452.59 L330.5,452.61 L331.0,452.91 L331.5,452.43 L332.0,452.94 L332.5,453.20 L333.0,453.16 L333.5,453.14 L334.0,452.98 L334.5,454.01 L335.0,453.64 L335.5,454.07 L336.0,453.53 L336.5,453.96 L337.0,453.46 L337.5,453.69 L338.0,453.19 L338.5,452.66 L339.0,453.01 L339.5,453.69 L340.0,454.04 L340.5,453.22 L341.0,452.39 L341.5,451.98 L342.0,451.84 L342.5,452.05 L343.0,452.66 L343.5,452.89 L344.0,452.51 L344.5,451.85 L345.0,452.04 L345.5,452.84 L346.0,453.33 L346.5,453.09 L347.0,452.51 L347.5,452.41 L348.0,452.99 L348.5,454.10 L349.0,454.45 L349.5,454.50 L350.0,453.81 L350.5,453.19 L351.0,452.92 L351.5,453.03 L352.0,453.26 L352.5,453.94 L353.0,454.56 L353.5,454.35 L354.0,453.77 L354.5,453.61 L355.0,453.05 L355.5,453.23 L356.0,452.94 L356.5,452.84 L357.0,452.47 L357.5,452.07 L358.0,452.09 L358.5,452.74 L359.0,453.17 L359.5,453.11 L360.0,452.72 L360.5,453.27 L361.0,453.49 L361.5,454.25 L362.0,453.60 L362.5,453.16 L363.0,452.52 L363.5,453.19 L364.0,453.39 L364.5,453.33 L365.0,452.60 L365.5,451.96 L366.0,451.60 L366.5,452.41 L367.0,453.04 L367.5,453.88 L368.0,453.54 L368.5,453.65 L369.0,453.28 L369.5,454.10 L370.0,453.53 L370.5,454.31 L371.0,454.04 L371.5,453.22 L372.0,452.77 L372.5,452.19 L373.0,452.86 L373.5,452.94 L374.0,453.34 L374.5,452.87 L375.0,453.05 L375.5,452.12 L376.0,452.45 L376.5,452.87 L377.0,453.25 L377.5,452.77 L378.0,451.81 L378.5,452.52 L379.0,453.37 L379.5,454.19 L380.0,454.05 L380.5,453.75 L381.0,453.79 L381.5,452.82 L382.0,452.97 L382.5,452.76 L383.0,453.86 L383.5,453.78 L384.0,453.18 L384.5,452.64 L385.0,451.79 L385.5,452.53 L386.0,452.21 L386.5,452.95 L387.0,452.25 L387.5,452.74 L388.0,452.50 L388.5,452.65 L389.0,453.15 L389.5,453.93 L390.0,454.01 L390.5,454.17 L391.0,453.84 L391.5,454.47 L392.0,453.85 L392.5,453.47 L393.0,452.66 L393.5,452.93 L394.0,452.79 L394.5,452.23 L395.0,452.15 L395.5,451.48 L396.0,451.43 L396.5,451.28 L397.0,451.35 L397.5,451.14 L398.0,451.63 L398.5,451.88 L399.0,451.90 L399.5,451.74 L400.0,451.15 L400.5,451.34 L401.0,451.17 L401.5,451.94 L402.0,452.40 L402.5,452.83 L403.0,451.83 L403.5,450.97 L404.0,451.12 L404.5,450.88 L405.0,451.82 L405.5,452.08 L406.0,453.22 L406.5,452.95 L407.0,452.89 L407.5,452.84 L408.0,452.82 L408.5,453.98 L409.0,452.73 L409.5,452.58 L410.0,451.98 L410.5,452.88 L411.0,452.75 L411.5,452.48 L412.0,451.69 L412.5,451.90 L413.0,452.71 L413.5,451.98 L414.0,453.23 L414.5,452.54 L415.0,453.01 L415.5,452.13 L416.0,452.65 L416.5,452.79 L417.0,452.90 L417.5,452.22 L418.0,452.37 L418.5,453.28 L419.0,452.97 L419.5,453.26 L420.0,453.28 L420.5,453.41 L421.0,452.97 L421.5,452.87 L422.0,453.09 L422.5,453.71 L423.0,453.91 L423.5,453.64 L424.0,453.47 L424.5,453.28 L425.0,452.61 L425.5,452.58 L426.0,451.77 L426.5,452.06 L427.0,452.59 L427.5,453.20 L428.0,452.34 L428.5,451.63 L429.0,451.68 L429.5,452.02 L430.0,452.57 L430.5,451.89 L431.0,451.56 L431.5,451.27 L432.0,451.95 L432.5,452.52 L433.0,453.54 L433.5,453.25 L434.0,452.74 L434.5,452.00 L435.0,452.10 L435.5,453.13 L436.0,453.87 L436.5,453.84 L437.0,453.15 L437.5,453.15 L438.0,452.92 L438.5,452.72 L439.0,452.37 L439.5,452.19 L440.0,451.71 L440.5,451.58 L441.0,452.09 L441.5,452.14 L442.0,452.36 L442.5,451.55 L443.0,452.38 L443.5,452.60 L444.0,452.79 L444.5,452.66 L445.0,452.73 L445.5,452.54 L446.0,452.43 L446.5,452.45 L447.0,452.55 L447.5,452.85 L448.0,452.36 L448.5,452.05 L449.0,452.43 L449.5,452.46 L450.0,452.32 L450.5,452.72 L451.0,452.41 L451.5,452.88 L452.0,452.85 L452.5,452.77 L453.0,452.14 L453.5,451.52 L454.0,451.89 L454.5,452.02 L455.0,451.30 L455.5,450.82 L456.0,451.69 L456.5,452.37 L457.0,453.73 L457.5,453.26 L458.0,453.26 L458.5,452.70 L459.0,452.61 L459.5,453.69 L460.0,453.81 L460.5,454.23 L461.0,453.89 L461.5,453.42 L462.0,452.80 L462.5,452.83 L463.0,452.61 L463.5,452.29 L464.0,452.60 L464.5,453.02 L465.0,453.85 L465.5,452.87 L466.0,452.35 L466.5,451.79 L467.0,451.56 L467.5,452.05 L468.0,451.94 L468.5,452.53 L469.0,453.01 L469.5,453.84 L470.0,453.70 L470.5,453.24 L471.0,453.60 L471.5,453.95 L472.0,454.52 L472.5,453.95 L473.0,453.48 L473.5,453.46 L474.0,452.98 L474.5,453.30 L475.0,453.34 L475.5,453.99 L476.0,453.47 L476.5,452.84 L477.0,452.58 L477.5,452.54 L478.0,452.23 L478.5,452.12 L479.0,451.85 L479.5,451.43 L480.0,450.59 L480.5,450.09 L481.0,450.26 L481.5,450.71 L482.0,450.44 L482.5,450.44 L483.0,450.26 L483.5,450.69 L484.0,450.63 L484.5,450.73 L485.0,450.58 L485.5,451.42 L486.0,452.01 L486.5,451.49 L487.0,450.40 L487.5,449.15 L488.0,448.76 L488.5,447.49 L489.0,446.69 L489.5,445.93 L490.0,445.70 L490.5,445.55 L491.0,445.98 L491.5,446.81 L492.0,446.92 L492.5,446.90 L493.0,446.73 L493.5,448.07 L494.0,449.24 L494.5,449.50 L495.0,449.51 L495.5,449.37 L496.0,449.56 L496.5,450.42 L497.0,451.18 L497.5,451.76 L498.0,451.80 L498.5,451.58 L499.0,451.43 L499.5,451.56 L500.0,451.11 L500.5,451.28 L501.0,450.46 L501.5,450.54 L502.0,450.97 L502.5,451.26 L503.0,451.41 L503.5,450.91 L504.0,450.30 L504.5,449.87 L505.0,450.08 L505.5,450.44 L506.0,451.90 L506.5,451.05 L507.0,450.81 L507.5,450.03 L508.0,450.31 L508.5,451.17 L509.0,451.54 L509.5,451.19 L510.0,451.17 L510.5,451.50 L511.0,451.16 L511.5,450.74 L512.0,450.85 L512.5,451.42 L513.0,451.88 L513.5,452.57 L514.0,452.52 L514.5,453.43 L515.0,452.77 L515.5,453.07 L516.0,452.07 L516.5,451.42 L517.0,451.58 L517.5,452.05 L518.0,452.64 L518.5,451.48 L519.0,451.13 L519.5,450.55 L520.0,451.18 L520.5,450.85 L521.0,451.19 L521.5,450.24 L522.0,450.06 L522.5,449.52 L523.0,449.93 L523.5,449.58 L524.0,448.82 L524.5,447.46 L525.0,445.16 L525.5,444.15 L526.0,442.21 L526.5,440.64 L527.0,437.06 L527.5,433.76 L528.0,429.06 L528.5,424.55 L529.0,419.48 L529.5,415.13 L530.0,410.58 L530.5,407.77 L531.0,404.47 L531.5,403.54 L532.0,403.02 L532.5,404.56 L533.0,406.58 L533.5,408.84 L534.0,411.84 L534.5,414.34 L535.0,418.31 L535.5,422.08 L536.0,426.45 L536.5,430.70 L537.0,433.72 L537.5,436.84 L538.0,438.74 L538.5,441.43 L539.0,443.27 L539.5,444.72 L540.0,445.70 L540.5,445.78 L541.0,446.72 L541.5,446.81 L542.0,447.86 L542.5,448.70 L543.0,447.93 L543.5,446.82 L544.0,445.82 L544.5,445.12 L545.0,444.92 L545.5,443.78 L546.0,442.04 L546.5,438.83 L547.0,436.55 L547.5,432.41 L548.0,428.38 L548.5,423.24 L549.0,417.95 L549.5,411.97 L550.0,403.96 L550.5,396.99 L551.0,390.22 L551.5,384.66 L552.0,378.45 L552.5,375.22 L553.0,373.43 L553.5,374.32 L554.0,374.90 L554.5,376.45 L555.0,380.26 L555.5,385.13 L556.0,391.34 L556.5,395.85 L557.0,401.72 L557.5,407.38 L558.0,414.07 L558.5,420.33 L559.0,425.27 L559.5,429.78 L560.0,433.19 L560.5,436.19 L561.0,438.34 L561.5,440.26 L562.0,442.48 L562.5,444.69 L563.0,445.60 L563.5,445.92 L564.0,446.76 L564.5,448.09 L565.0,448.67 L565.5,448.76 L566.0,450.04 L566.5,449.95 L567.0,450.19 L567.5,449.11 L568.0,449.36 L568.5,450.11 L569.0,450.04 L569.5,450.35 L570.0,450.02 L570.5,450.11 L571.0,449.73 L571.5,449.54 L572.0,450.15 L572.5,450.52 L573.0,450.99 L573.5,451.04 L574.0,451.84 L574.5,451.61 L575.0,451.71 L575.5,452.00 L576.0,452.20 L576.5,451.95 L577.0,450.84 L577.5,450.28 L578.0,450.35 L578.5,450.49 L579.0,450.89 L579.5,451.33 L580.0,450.81 L580.5,450.99 L581.0,451.18 L581.5,451.74 L582.0,451.80 L582.5,451.66 L583.0,451.13 L583.5,450.15 L584.0,449.09 L584.5,449.96 L585.0,449.80 L585.5,449.39 L586.0,448.42 L586.5,448.36 L587.0,449.00 L587.5,449.16 L588.0,449.09 L588.5,448.69 L589.0,448.16 L589.5,447.13 L590.0,446.45 L590.5,445.38 L591.0,444.33 L591.5,442.66 L592.0,440.48 L592.5,437.30 L593.0,433.55 L593.5,429.58 L594.0,426.54 L594.5,423.53 L595.0,419.99 L595.5,415.65 L596.0,412.66 L596.5,410.46 L597.0,409.51 L597.5,409.02 L598.0,409.80 L598.5,411.58 L599.0,412.66 L599.5,414.07 L600.0,415.77 L600.5,419.59 L601.0,423.36 L601.5,426.43 L602.0,428.46 L602.5,431.48 L603.0,433.52 L603.5,436.14 L604.0,438.53 L604.5,441.33 L605.0,443.45 L605.5,444.69 L606.0,445.90 L606.5,447.05 L607.0,447.69 L607.5,448.45 L608.0,448.69 L608.5,448.63 L609.0,449.17 L609.5,450.48 L610.0,451.12 L610.5,450.63 L611.0,450.48 L611.5,450.51 L612.0,450.73 L612.5,450.59 L613.0,451.39 L613.5,452.08 L614.0,451.01 L614.5,451.01 L615.0,450.84 L615.5,452.15 L616.0,451.72 L616.5,452.15 L617.0,451.96 L617.5,452.13 L618.0,451.14 L618.5,451.04 L619.0,450.36 L619.5,450.53 L620.0,449.73 L620.5,449.28 L621.0,449.16 L621.5,449.66 L622.0,449.55 L622.5,449.68 L623.0,449.77 L623.5,449.75 L624.0,449.72 L624.5,449.31 L625.0,449.30 L625.5,449.54 L626.0,449.68 L626.5,449.46 L627.0,449.06 L627.5,449.36 L628.0,449.53 L628.5,450.68 L629.0,450.57 L629.5,450.79 L630.0,451.13 L630.5,451.15 L631.0,451.60 L631.5,451.43 L632.0,452.53 L632.5,451.58 L633.0,451.30 L633.5,450.41 L634.0,451.06 L634.5,451.25 L635.0,451.17 L635.5,450.98 L636.0,450.92 L636.5,450.46 L637.0,450.74 L637.5,451.19 L638.0,451.06 L638.5,450.05 L639.0,450.06 L639.5,450.59 L640.0,450.36 L640.5,450.02 L641.0,448.93 L641.5,449.54 L642.0,448.58 L642.5,449.50 L643.0,449.41 L643.5,450.18 L644.0,449.59 L644.5,448.89 L645.0,449.29 L645.5,449.53 L646.0,449.93 L646.5,449.85 L647.0,449.86 L647.5,448.49 L648.0,448.03 L648.5,447.40 L649.0,447.44 L649.5,448.71 L650.0,449.53 L650.5,450.89 L651.0,450.04 L651.5,449.67 L652.0,449.02 L652.5,449.78 L653.0,449.83 L653.5,451.06 L654.0,451.43 L654.5,451.64 L655.0,451.79 L655.5,451.76 L656.0,452.59 L656.5,451.85 L657.0,451.80 L657.5,451.93 L658.0,452.23 L658.5,451.90 L659.0,451.72 L659.5,451.49 L660.0,450.70 L660.5,450.13 L661.0,450.49 L661.5,450.77 L662.0,451.38 L662.5,451.24 L663.0,451.19 L663.5,451.77 L664.0,451.86 L664.5,452.12 L665.0,451.42 L665.5,450.84 L666.0,450.69 L666.5,451.50 L667.0,451.50 L667.5,450.98 L668.0,450.47 L668.5,449.57 L669.0,449.94 L669.5,450.02 L670.0,450.66 L670.5,449.98 L671.0,450.11 L671.5,450.02 L672.0,450.16 L672.5,449.80 L673.0,450.52 L673.5,450.76 L674.0,451.26 L674.5,450.53 L675.0,450.61 L675.5,450.22 L676.0,450.19 L676.5,450.47 L677.0,450.09 L677.5,449.93 L678.0,449.99 L678.5,450.99 L679.0,450.55 L679.5,451.11 L680.0,450.81 L680.5,452.28 L681.0,451.42 L681.5,450.81 L682.0,450.66 L682.5,451.08 L683.0,451.68 L683.5,450.92 L684.0,450.24 L684.5,449.87 L685.0,450.58 L685.5,451.04 L686.0,451.36 L686.5,450.79 L687.0,450.32 L687.5,450.10 L688.0,449.63 L688.5,449.21 L689.0,449.93 L689.5,449.46 L690.0,449.64 L690.5,449.51 L691.0,450.09 L691.5,450.26 L692.0,450.36 L692.5,449.71 L693.0,450.29 L693.5,450.82 L694.0,451.58 L694.5,452.11 L695.0,451.98 L695.5,452.01 L696.0,452.16 L696.5,452.52 L697.0,451.60" fill="none" stroke="#6b6be6" stroke-width="0.9"/>
<path d="M98.0,449.69 L98.5,449.73 L99.0,449.81 L99.5,448.12 L100.0,447.54 L100.5,447.10 L101.0,446.74 L101.5,446.82 L102.0,447.32 L102.5,447.16 L103.0,446.70 L103.5,445.91 L104.0,445.84 L104.5,446.17 L105.0,446.57 L105.5,447.10 L106.0,448.15 L106.5,448.11 L107.0,448.12 L107.5,447.80 L108.0,448.19 L108.5,447.97 L109.0,448.52 L109.5,447.91 L110.0,448.94 L110.5,448.38 L111.0,448.47 L111.5,447.74 L112.0,448.05 L112.5,448.87 L113.0,449.15 L113.5,449.82 L114.0,449.18 L114.5,449.68 L115.0,449.38 L115.5,449.00 L116.0,449.07 L116.5,448.23 L117.0,448.04 L117.5,448.38 L118.0,449.16 L118.5,448.64 L119.0,448.28 L119.5,447.25 L120.0,446.90 L120.5,447.47 L121.0,447.64 L121.5,447.96 L122.0,447.19 L122.5,447.56 L123.0,447.89 L123.5,448.53 L124.0,447.96 L124.5,447.76 L125.0,447.25 L125.5,447.55 L126.0,448.39 L126.5,449.06 L127.0,449.37 L127.5,448.45 L128.0,447.11 L128.5,447.61 L129.0,447.52 L129.5,448.15 L130.0,447.60 L130.5,447.19 L131.0,447.51 L131.5,447.29 L132.0,446.86 L132.5,446.51 L133.0,446.46 L133.5,447.04 L134.0,447.12 L134.5,447.13 L135.0,446.44 L135.5,446.43 L136.0,446.12 L136.5,446.80 L137.0,446.78 L137.5,446.66 L138.0,446.41 L138.5,446.96 L139.0,447.34 L139.5,447.62 L140.0,447.41 L140.5,446.63 L141.0,446.37 L141.5,446.07 L142.0,446.65 L142.5,446.89 L143.0,446.29 L143.5,445.83 L144.0,445.71 L144.5,446.07 L145.0,445.94 L145.5,445.78 L146.0,445.76 L146.5,445.04 L147.0,446.15 L147.5,447.32 L148.0,447.86 L148.5,447.09 L149.0,447.25 L149.5,447.85 L150.0,448.00 L150.5,447.79 L151.0,447.77 L151.5,448.18 L152.0,447.95 L152.5,446.80 L153.0,446.48 L153.5,446.58 L154.0,446.61 L154.5,446.55 L155.0,445.95 L155.5,445.89 L156.0,445.79 L156.5,445.72 L157.0,445.08 L157.5,445.60 L158.0,445.99 L158.5,445.76 L159.0,445.41 L159.5,444.51 L160.0,444.53 L160.5,443.85 L161.0,443.73 L161.5,443.74 L162.0,443.32 L162.5,443.21 L163.0,442.39 L163.5,442.56 L164.0,441.74 L164.5,442.00 L165.0,442.33 L165.5,442.22 L166.0,441.64 L166.5,441.34 L167.0,441.37 L167.5,441.13 L168.0,441.55 L168.5,440.84 L169.0,440.80 L169.5,440.32 L170.0,439.99 L170.5,440.03 L171.0,440.13 L171.5,440.10 L172.0,439.86 L172.5,439.36 L173.0,439.59 L173.5,440.22 L174.0,441.26 L174.5,441.31 L175.0,441.65 L175.5,442.64 L176.0,442.75 L176.5,443.16 L177.0,442.56 L177.5,442.89 L178.0,443.34 L178.5,444.39 L179.0,444.52 L179.5,444.23 L180.0,443.23 L180.5,443.30 L181.0,443.37 L181.5,444.15 L182.0,443.64 L182.5,443.97 L183.0,444.48 L183.5,444.40 L184.0,443.97 L184.5,443.29 L185.0,443.93 L185.5,444.30 L186.0,444.71 L186.5,444.76 L187.0,444.99 L187.5,445.12 L188.0,444.56 L188.5,444.55 L189.0,445.23 L189.5,445.64 L190.0,445.62 L190.5,445.47 L191.0,444.61 L191.5,445.14 L192.0,445.20 L192.5,446.51 L193.0,446.64 L193.5,446.08 L194.0,445.11 L194.5,444.72 L195.0,445.84 L195.5,446.27 L196.0,446.16 L196.5,444.77 L197.0,444.56 L197.5,444.52 L198.0,445.15 L198.5,444.86 L199.0,444.64 L199.5,444.50 L200.0,444.42 L200.5,445.35 L201.0,444.75 L201.5,443.81 L202.0,443.38 L202.5,444.26 L203.0,445.02 L203.5,445.46 L204.0,444.69 L204.5,443.41 L205.0,443.17 L205.5,441.92 L206.0,441.94 L206.5,441.76 L207.0,442.20 L207.5,442.03 L208.0,441.30 L208.5,439.75 L209.0,438.83 L209.5,438.41 L210.0,437.34 L210.5,436.58 L211.0,435.83 L211.5,435.99 L212.0,435.00 L212.5,434.69 L213.0,433.89 L213.5,433.39 L214.0,432.16 L214.5,431.53 L215.0,431.84 L215.5,432.27 L216.0,432.99 L216.5,433.05 L217.0,433.00 L217.5,431.98 L218.0,431.83 L218.5,432.09 L219.0,432.24 L219.5,432.30 L220.0,433.16 L220.5,433.73 L221.0,434.04 L221.5,433.16 L222.0,432.57 L222.5,432.78 L223.0,433.39 L223.5,434.86 L224.0,435.21 L224.5,436.20 L225.0,436.85 L225.5,437.34 L226.0,437.25 L226.5,437.46 L227.0,438.68 L227.5,439.99 L228.0,440.62 L228.5,440.12 L229.0,440.15 L229.5,440.33 L230.0,441.49 L230.5,442.09 L231.0,442.35 L231.5,442.94 L232.0,443.19 L232.5,443.00 L233.0,442.61 L233.5,442.74 L234.0,442.90 L234.5,443.59 L235.0,444.12 L235.5,444.09 L236.0,444.20 L236.5,443.75 L237.0,444.09 L237.5,443.44 L238.0,443.00 L238.5,443.66 L239.0,444.79 L239.5,445.04 L240.0,444.11 L240.5,444.53 L241.0,444.14 L241.5,444.60 L242.0,443.97 L242.5,445.30 L243.0,445.83 L243.5,445.55 L244.0,444.52 L244.5,444.10 L245.0,444.37 L245.5,444.76 L246.0,444.86 L246.5,445.66 L247.0,445.66 L247.5,446.02 L248.0,444.90 L248.5,445.82 L249.0,444.97 L249.5,445.71 L250.0,444.66 L250.5,444.91 L251.0,444.83 L251.5,444.95 L252.0,444.73 L252.5,444.45 L253.0,444.76 L253.5,444.90 L254.0,444.96 L254.5,444.27 L255.0,444.60 L255.5,445.23 L256.0,445.85 L256.5,446.03 L257.0,445.79 L257.5,446.37 L258.0,445.55 L258.5,445.64 L259.0,445.95 L259.5,447.37 L260.0,447.01 L260.5,446.44 L261.0,445.97 L261.5,446.15 L262.0,446.06 L262.5,445.66 L263.0,445.64 L263.5,446.19 L264.0,446.40 L264.5,446.34 L265.0,445.70 L265.5,446.09 L266.0,445.56 L266.5,445.76 L267.0,445.70 L267.5,446.36 L268.0,446.53 L268.5,445.99 L269.0,445.79 L269.5,445.82 L270.0,445.41 L270.5,444.49 L271.0,443.99 L271.5,444.63 L272.0,444.62 L272.5,445.26 L273.0,445.84 L273.5,447.10 L274.0,446.65 L274.5,446.78 L275.0,445.68 L275.5,445.97 L276.0,446.23 L276.5,447.31 L277.0,447.04 L277.5,446.17 L278.0,445.81 L278.5,445.28 L279.0,445.42 L279.5,444.91 L280.0,445.73 L280.5,445.71 L281.0,445.69 L281.5,444.85 L282.0,445.35 L282.5,445.85 L283.0,446.07 L283.5,445.56 L284.0,445.24 L284.5,445.19 L285.0,445.79 L285.5,445.64 L286.0,444.98 L286.5,445.32 L287.0,446.02 L287.5,446.21 L288.0,445.61 L288.5,445.33 L289.0,444.71 L289.5,444.94 L290.0,444.48 L290.5,444.66 L291.0,444.35 L291.5,444.67 L292.0,444.75 L292.5,444.35 L293.0,443.48 L293.5,443.53 L294.0,443.97 L294.5,443.86 L295.0,443.27 L295.5,443.42 L296.0,443.42 L296.5,443.14 L297.0,442.41 L297.5,441.97 L298.0,441.06 L298.5,440.40 L299.0,439.58 L299.5,437.97 L300.0,437.40 L300.5,435.14 L301.0,434.03 L301.5,430.58 L302.0,428.06 L302.5,424.60 L303.0,421.84 L303.5,417.61 L304.0,413.49 L304.5,408.82 L305.0,403.56 L305.5,397.91 L306.0,390.75 L306.5,384.29 L307.0,377.50 L307.5,370.50 L308.0,363.01 L308.5,355.63 L309.0,347.96 L309.5,341.03 L310.0,334.51 L310.5,328.24 L311.0,322.66 L311.5,317.38 L312.0,313.63 L312.5,311.23 L313.0,308.92 L313.5,308.04 L314.0,307.83 L314.5,308.93 L315.0,310.07 L315.5,312.93 L316.0,315.68 L316.5,320.29 L317.0,324.83 L317.5,330.56 L318.0,336.34 L318.5,342.76 L319.0,348.93 L319.5,355.44 L320.0,362.28 L320.5,369.42 L321.0,376.11 L321.5,382.74 L322.0,388.17 L322.5,393.80 L323.0,399.15 L323.5,403.66 L324.0,407.94 L324.5,412.70 L325.0,417.25 L325.5,421.41 L326.0,424.09 L326.5,425.83 L327.0,428.09 L327.5,430.65 L328.0,433.15 L328.5,435.15 L329.0,436.29 L329.5,437.54 L330.0,438.48 L330.5,439.74 L331.0,440.61 L331.5,441.15 L332.0,441.21 L332.5,441.43 L333.0,441.18 L333.5,441.62 L334.0,441.94 L334.5,442.66 L335.0,442.91 L335.5,442.74 L336.0,442.58 L336.5,442.65 L337.0,443.19 L337.5,443.49 L338.0,443.90 L338.5,444.21 L339.0,444.23 L339.5,444.56 L340.0,443.51 L340.5,443.96 L341.0,443.92 L341.5,444.69 L342.0,443.99 L342.5,444.04 L343.0,443.56 L343.5,444.54 L344.0,444.69 L344.5,444.80 L345.0,444.58 L345.5,444.91 L346.0,445.71 L346.5,445.57 L347.0,444.94 L347.5,444.88 L348.0,445.61 L348.5,446.16 L349.0,445.76 L349.5,446.18 L350.0,446.38 L350.5,446.49 L351.0,445.95 L351.5,445.28 L352.0,445.84 L352.5,445.15 L353.0,444.36 L353.5,443.82 L354.0,444.05 L354.5,444.01 L355.0,442.84 L355.5,442.67 L356.0,443.43 L356.5,444.83 L357.0,444.60 L357.5,444.49 L358.0,444.59 L358.5,444.89 L359.0,444.50 L359.5,445.34 L360.0,444.71 L360.5,444.90 L361.0,444.60 L361.5,444.40 L362.0,444.06 L362.5,444.21 L363.0,444.17 L363.5,444.51 L364.0,444.18 L364.5,443.38 L365.0,442.75 L365.5,443.38 L366.0,443.13 L366.5,444.35 L367.0,444.36 L367.5,444.88 L368.0,445.17 L368.5,445.48 L369.0,445.60 L369.5,445.32 L370.0,445.91 L370.5,445.23 L371.0,445.34 L371.5,444.55 L372.0,445.03 L372.5,445.21 L373.0,445.58 L373.5,444.39 L374.0,444.42 L374.5,444.43 L375.0,445.05 L375.5,444.87 L376.0,444.67 L376.5,445.12 L377.0,445.17 L377.5,446.06 L378.0,445.71 L378.5,446.12 L379.0,445.51 L379.5,445.44 L380.0,445.09 L380.5,445.19 L381.0,445.19 L381.5,445.42 L382.0,445.41 L382.5,444.23 L383.0,444.12 L383.5,443.79 L384.0,445.52 L384.5,445.68 L385.0,446.61 L385.5,446.16 L386.0,444.77 L386.5,444.89 L387.0,444.53 L387.5,445.94 L388.0,445.82 L388.5,446.53 L389.0,445.64 L389.5,445.66 L390.0,445.40 L390.5,445.39 L391.0,446.44 L391.5,445.72 L392.0,445.45 L392.5,445.03 L393.0,444.54 L393.5,445.58 L394.0,445.87 L394.5,445.87 L395.0,444.92 L395.5,445.09 L396.0,444.68 L396.5,445.27 L397.0,445.28 L397.5,445.76 L398.0,445.57 L398.5,445.84 L399.0,445.27 L399.5,445.83 L400.0,445.62 L400.5,445.89 L401.0,445.29 L401.5,445.13 L402.0,444.87 L402.5,444.89 L403.0,445.53 L403.5,445.21 L404.0,444.89 L404.5,444.54 L405.0,444.14 L405.5,444.56 L406.0,444.27 L406.5,444.65 L407.0,444.87 L407.5,445.04 L408.0,444.85 L408.5,444.83 L409.0,444.88 L409.5,444.98 L410.0,445.14 L410.5,446.19 L411.0,445.82 L411.5,445.50 L412.0,445.16 L412.5,445.59 L413.0,446.05 L413.5,445.79 L414.0,445.73 L414.5,445.15 L415.0,445.69 L415.5,445.46 L416.0,445.35 L416.5,444.30 L417.0,443.98 L417.5,444.34 L418.0,444.60 L418.5,445.53 L419.0,445.98 L419.5,445.80 L420.0,445.15 L420.5,444.76 L421.0,445.59 L421.5,446.34 L422.0,446.07 L422.5,445.41 L423.0,445.13 L423.5,444.44 L424.0,444.53 L424.5,445.00 L425.0,445.77 L425.5,446.09 L426.0,445.71 L426.5,445.37 L427.0,445.20 L427.5,444.64 L428.0,443.89 L428.5,443.57 L429.0,444.43 L429.5,444.60 L430.0,445.45 L430.5,445.07 L431.0,445.24 L431.5,445.12 L432.0,444.78 L432.5,444.70 L433.0,444.72 L433.5,445.19 L434.0,444.60 L434.5,444.93 L435.0,444.08 L435.5,444.50 L436.0,444.39 L436.5,445.28 L437.0,445.01 L437.5,444.86 L438.0,444.45 L438.5,444.36 L439.0,444.77 L439.5,444.46 L440.0,445.14 L440.5,444.79 L441.0,444.65 L441.5,444.64 L442.0,444.74 L442.5,444.81 L443.0,445.36 L443.5,444.93 L444.0,445.25 L444.5,444.68 L445.0,445.09 L445.5,445.11 L446.0,445.55 L446.5,445.83 L447.0,445.62 L447.5,445.21 L448.0,444.25 L448.5,444.60 L449.0,443.79 L449.5,444.57 L450.0,444.05 L450.5,444.37 L451.0,444.58 L451.5,444.41 L452.0,444.60 L452.5,444.89 L453.0,444.96 L453.5,445.49 L454.0,446.12 L454.5,445.32 L455.0,446.01 L455.5,445.61 L456.0,446.09 L456.5,445.52 L457.0,444.98 L457.5,445.03 L458.0,444.84 L458.5,445.23 L459.0,445.14 L459.5,445.47 L460.0,445.66 L460.5,445.24 L461.0,444.62 L461.5,444.15 L462.0,444.38 L462.5,445.37 L463.0,444.63 L463.5,444.55 L464.0,444.06 L464.5,444.61 L465.0,443.91 L465.5,444.21 L466.0,444.66 L466.5,445.33 L467.0,445.25 L467.5,444.45 L468.0,444.56 L468.5,444.73 L469.0,446.22 L469.5,446.73 L470.0,447.71 L470.5,446.60 L471.0,446.54 L471.5,446.42 L472.0,446.31 L472.5,447.01 L473.0,447.21 L473.5,446.35 L474.0,445.60 L474.5,445.08 L475.0,445.91 L475.5,445.93 L476.0,446.14 L476.5,445.72 L477.0,446.15 L477.5,445.78 L478.0,444.95 L478.5,444.92 L479.0,444.60 L479.5,445.02 L480.0,444.50 L480.5,444.55 L481.0,443.99 L481.5,443.90 L482.0,444.36 L482.5,444.35 L483.0,444.99 L483.5,444.47 L484.0,445.10 L484.5,444.37 L485.0,444.52 L485.5,444.25 L486.0,445.05 L486.5,444.99 L487.0,444.18 L487.5,442.91 L488.0,441.88 L488.5,441.06 L489.0,440.45 L489.5,440.02 L490.0,439.10 L490.5,438.07 L491.0,437.96 L491.5,438.31 L492.0,439.22 L492.5,439.44 L493.0,439.65 L493.5,439.71 L494.0,441.00 L494.5,440.98 L495.0,442.76 L495.5,442.53 L496.0,443.88 L496.5,444.30 L497.0,444.95 L497.5,444.46 L498.0,445.27 L498.5,445.83 L499.0,446.04 L499.5,445.71 L500.0,445.58 L500.5,445.60 L501.0,445.70 L501.5,445.46 L502.0,444.97 L502.5,445.31 L503.0,445.10 L503.5,445.97 L504.0,445.93 L504.5,445.70 L505.0,445.46 L505.5,445.17 L506.0,445.15 L506.5,445.89 L507.0,445.95 L507.5,446.24 L508.0,445.79 L508.5,445.78 L509.0,445.45 L509.5,445.52 L510.0,444.87 L510.5,445.20 L511.0,444.80 L511.5,443.96 L512.0,443.94 L512.5,443.38 L513.0,444.21 L513.5,444.39 L514.0,444.07 L514.5,444.76 L515.0,445.36 L515.5,445.63 L516.0,445.16 L516.5,445.16 L517.0,444.79 L517.5,444.29 L518.0,444.03 L518.5,444.22 L519.0,444.14 L519.5,444.06 L520.0,443.75 L520.5,443.70 L521.0,443.52 L521.5,442.83 L522.0,442.68 L522.5,441.82 L523.0,442.18 L523.5,441.78 L524.0,441.66 L524.5,440.13 L525.0,439.52 L525.5,438.22 L526.0,436.39 L526.5,433.17 L527.0,431.19 L527.5,427.96 L528.0,424.80 L528.5,420.73 L529.0,417.28 L529.5,413.05 L530.0,409.02 L530.5,406.33 L531.0,405.25 L531.5,403.94 L532.0,403.46 L532.5,404.65 L533.0,405.96 L533.5,407.67 L534.0,409.85 L534.5,413.11 L535.0,416.31 L535.5,419.46 L536.0,422.81 L536.5,426.11 L537.0,429.45 L537.5,431.87 L538.0,435.03 L538.5,436.46 L539.0,437.54 L539.5,438.02 L540.0,438.81 L540.5,439.73 L541.0,441.01 L541.5,441.19 L542.0,441.25 L542.5,441.25 L543.0,440.99 L543.5,441.00 L544.0,440.47 L544.5,439.92 L545.0,439.56 L545.5,439.03 L546.0,437.90 L546.5,436.29 L547.0,433.00 L547.5,428.99 L548.0,424.19 L548.5,419.46 L549.0,414.10 L549.5,408.77 L550.0,403.08 L550.5,397.19 L551.0,390.01 L551.5,383.71 L552.0,379.03 L552.5,377.27 L553.0,376.18 L553.5,376.25 L554.0,376.63 L554.5,378.43 L555.0,381.56 L555.5,385.01 L556.0,389.23 L556.5,393.89 L557.0,399.08 L557.5,404.32 L558.0,410.10 L558.5,414.99 L559.0,419.68 L559.5,423.64 L560.0,427.19 L560.5,430.44 L561.0,432.35 L561.5,435.21 L562.0,437.13 L562.5,438.95 L563.0,439.58 L563.5,440.27 L564.0,440.71 L564.5,440.89 L565.0,441.47 L565.5,441.95 L566.0,443.06 L566.5,442.08 L567.0,442.00 L567.5,441.38 L568.0,441.85 L568.5,442.33 L569.0,442.87 L569.5,442.76 L570.0,442.61 L570.5,443.24 L571.0,443.21 L571.5,443.84 L572.0,442.95 L572.5,443.54 L573.0,444.16 L573.5,444.90 L574.0,445.02 L574.5,444.40 L575.0,444.61 L575.5,444.59 L576.0,444.64 L576.5,443.84 L577.0,443.96 L577.5,443.83 L578.0,444.29 L578.5,443.45 L579.0,443.02 L579.5,443.09 L580.0,443.30 L580.5,443.05 L581.0,443.27 L581.5,443.36 L582.0,443.14 L582.5,443.04 L583.0,442.98 L583.5,443.11 L584.0,444.05 L584.5,443.27 L585.0,443.21 L585.5,442.28 L586.0,442.11 L586.5,442.19 L587.0,442.44 L587.5,442.21 L588.0,441.59 L588.5,441.26 L589.0,440.96 L589.5,440.46 L590.0,439.00 L590.5,437.82 L591.0,436.43 L591.5,435.74 L592.0,433.84 L592.5,431.32 L593.0,428.56 L593.5,425.79 L594.0,423.16 L594.5,420.55 L595.0,418.66 L595.5,416.14 L596.0,413.39 L596.5,411.15 L597.0,408.89 L597.5,409.48 L598.0,410.06 L598.5,411.83 L599.0,413.34 L599.5,414.11 L600.0,415.61 L600.5,416.85 L601.0,419.78 L601.5,422.47 L602.0,425.61 L602.5,427.97 L603.0,429.61 L603.5,431.45 L604.0,432.79 L604.5,434.41 L605.0,435.99 L605.5,437.63 L606.0,439.03 L606.5,439.45 L607.0,439.74 L607.5,441.01 L608.0,441.62 L608.5,442.54 L609.0,442.26 L609.5,442.03 L610.0,441.95 L610.5,442.24 L611.0,442.75 L611.5,442.61 L612.0,443.13 L612.5,442.48 L613.0,443.23 L613.5,442.48 L614.0,442.82 L614.5,443.07 L615.0,443.72 L615.5,444.65 L616.0,444.66 L616.5,444.39 L617.0,443.28 L617.5,443.44 L618.0,443.81 L618.5,444.07 L619.0,443.98 L619.5,443.71 L620.0,442.88 L620.5,442.64 L621.0,442.44 L621.5,443.29 L622.0,443.34 L622.5,443.70 L623.0,443.53 L623.5,443.79 L624.0,443.04 L624.5,443.59 L625.0,442.84 L625.5,444.16 L626.0,443.49 L626.5,443.92 L627.0,443.12 L627.5,443.67 L628.0,444.03 L628.5,444.05 L629.0,444.54 L629.5,444.31 L630.0,444.11 L630.5,444.26 L631.0,443.72 L631.5,444.07 L632.0,443.38 L632.5,444.26 L633.0,444.00 L633.5,443.76 L634.0,442.45 L634.5,442.43 L635.0,442.90 L635.5,442.60 L636.0,442.45 L636.5,443.13 L637.0,443.05 L637.5,443.46 L638.0,443.59 L638.5,444.16 L639.0,444.81 L639.5,444.57 L640.0,444.55 L640.5,444.36 L641.0,444.45 L641.5,444.60 L642.0,444.71 L642.5,444.83 L643.0,443.89 L643.5,443.64 L644.0,442.62 L644.5,443.10 L645.0,442.24 L645.5,443.48 L646.0,444.21 L646.5,444.45 L647.0,443.76 L647.5,443.37 L648.0,443.68 L648.5,444.07 L649.0,444.43 L649.5,444.38 L650.0,445.02 L650.5,444.33 L651.0,443.91 L651.5,444.10 L652.0,443.95 L652.5,444.56 L653.0,444.09 L653.5,444.15 L654.0,443.93 L654.5,444.15 L655.0,444.26 L655.5,443.64 L656.0,444.38 L656.5,444.29 L657.0,444.81 L657.5,444.23 L658.0,443.67 L658.5,443.35 L659.0,443.43 L659.5,443.90 L660.0,443.89 L660.5,444.02 L661.0,443.74 L661.5,444.28 L662.0,444.15 L662.5,444.90 L663.0,444.45 L663.5,444.03 L664.0,444.54 L664.5,444.06 L665.0,443.68 L665.5,442.53 L666.0,443.01 L666.5,443.13 L667.0,444.00 L667.5,443.30 L668.0,444.06 L668.5,443.90 L669.0,443.59 L669.5,443.91 L670.0,444.40 L670.5,444.45 L671.0,443.96 L671.5,444.08 L672.0,443.79 L672.5,444.37 L673.0,443.89 L673.5,443.91 L674.0,443.25 L674.5,442.84 L675.0,442.34 L675.5,442.81 L676.0,442.94 L676.5,442.74 L677.0,443.18 L677.5,443.63 L678.0,444.79 L678.5,444.69 L679.0,445.17 L679.5,444.64 L680.0,444.57 L680.5,443.85 L681.0,444.22 L681.5,444.85 L682.0,444.85 L682.5,444.44 L683.0,443.91 L683.5,443.37 L684.0,443.41 L684.5,443.18 L685.0,443.89 L685.5,444.11 L686.0,444.66 L686.5,444.06 L687.0,444.12 L687.5,443.77 L688.0,443.12 L688.5,442.73 L689.0,442.97 L689.5,444.02 L690.0,445.01 L690.5,444.05 L691.0,443.88 L691.5,443.93 L692.0,443.93 L692.5,443.97 L693.0,444.12 L693.5,444.26 L694.0,444.17 L694.5,444.03 L695.0,443.98 L695.5,444.47 L696.0,444.55 L696.5,443.63 L697.0,443.58" fill="none" stroke="#4a4a4a" stroke-width="0.9"/>
<text x="351.00" y="97.20" font-size="13.2" text-anchor="start" fill="#111" font-weight="normal" textLength="274.0" lengthAdjust="spacingAndGlyphs">Sample (8 mM treatment group) + BMAA spike</text>
<text x="351.20" y="118.60" font-size="13.2" text-anchor="start" fill="#4b4be0" font-weight="normal" textLength="185.0" lengthAdjust="spacingAndGlyphs">Sample (8 mM treatment group)</text>
<line x1="351.20" y1="97.80" x2="325.65" y2="142.71" stroke="#000" stroke-width="1.8"/>
<polygon points="320.70,151.40 322.81,137.07 326.14,141.84 331.94,142.26" fill="#000"/>
<line x1="350.90" y1="121.00" x2="321.46" y2="198.16" stroke="#1f2ff0" stroke-width="1.8"/>
<polygon points="317.90,207.50 317.81,193.02 321.82,197.22 327.62,196.76" fill="#1f2ff0"/>
<text x="376.30" y="323.00" font-size="13.2" text-anchor="start" fill="#111" font-weight="normal" textLength="274.0" lengthAdjust="spacingAndGlyphs">Sample (0 mM treatment group) + BMAA spike</text>
<text x="376.30" y="343.80" font-size="13.2" text-anchor="start" fill="#4b4be0" font-weight="normal" textLength="186.0" lengthAdjust="spacingAndGlyphs">Sample (0 mM treatment group)</text>
<line x1="373.80" y1="318.80" x2="331.30" y2="347.33" stroke="#000" stroke-width="1.8"/>
<polygon points="323.00,352.90 331.28,341.02 332.13,346.77 337.13,349.73" fill="#000"/>
<line x1="375.00" y1="346.00" x2="349.41" y2="440.65" stroke="#1f2ff0" stroke-width="1.8"/>
<polygon points="346.80,450.30 345.26,435.90 349.67,439.68 355.39,438.64" fill="#1f2ff0"/>
<text x="35.70" y="34.70" font-size="21" text-anchor="start" fill="#000" font-weight="normal" textLength="12.6" lengthAdjust="spacingAndGlyphs">A</text>
<text x="35.00" y="284.60" font-size="21" text-anchor="start" fill="#000" font-weight="normal" textLength="14.6" lengthAdjust="spacingAndGlyphs">B</text>
<text x="11.80" y="529.90" font-size="21" text-anchor="start" fill="#000" font-weight="normal">C</text>
<text x="366.60" y="529.60" font-size="21" text-anchor="start" fill="#000" font-weight="normal" textLength="14.3" lengthAdjust="spacingAndGlyphs">D</text>
<text x="12.40" y="767.60" font-size="21" text-anchor="start" fill="#000" font-weight="normal" textLength="12.8" lengthAdjust="spacingAndGlyphs">E</text>
<text x="360.40" y="767.50" font-size="21" text-anchor="start" fill="#000" font-weight="normal" textLength="12.2" lengthAdjust="spacingAndGlyphs">F</text>
<text transform="translate(64.9,226.6) rotate(-90)" font-size="16.9" text-anchor="middle" fill="#111" textLength="203" lengthAdjust="spacingAndGlyphs">Fluorescence Intensity (AU)</text>
<text x="348.80" y="488.30" font-size="17" text-anchor="start" fill="#111" font-weight="normal" textLength="57.0" lengthAdjust="spacingAndGlyphs">Minutes</text>
<line x1="77.10" y1="535.48" x2="77.10" y2="738.50" stroke="#4a4a4a" stroke-width="1.2"/>
<line x1="73.60" y1="736.00" x2="77.10" y2="736.00" stroke="#4a4a4a" stroke-width="1.1"/>
<text x="72.10" y="740.05" font-size="16.4" text-anchor="end" fill="#1a1a1a" font-weight="normal" textLength="8.1" lengthAdjust="spacingAndGlyphs">0</text>
<line x1="73.60" y1="711.01" x2="77.10" y2="711.01" stroke="#4a4a4a" stroke-width="1.1"/>
<text x="72.10" y="715.51" font-size="16.4" text-anchor="end" fill="#1a1a1a" font-weight="normal" textLength="24.4" lengthAdjust="spacingAndGlyphs">200</text>
<line x1="73.60" y1="686.02" x2="77.10" y2="686.02" stroke="#4a4a4a" stroke-width="1.1"/>
<text x="72.10" y="690.97" font-size="16.4" text-anchor="end" fill="#1a1a1a" font-weight="normal" textLength="24.4" lengthAdjust="spacingAndGlyphs">400</text>
<line x1="73.60" y1="661.03" x2="77.10" y2="661.03" stroke="#4a4a4a" stroke-width="1.1"/>
<text x="72.10" y="666.43" font-size="16.4" text-anchor="end" fill="#1a1a1a" font-weight="normal" textLength="24.4" lengthAdjust="spacingAndGlyphs">600</text>
<line x1="73.60" y1="636.04" x2="77.10" y2="636.04" stroke="#4a4a4a" stroke-width="1.1"/>
<text x="72.10" y="641.89" font-size="16.4" text-anchor="end" fill="#1a1a1a" font-weight="normal" textLength="24.4" lengthAdjust="spacingAndGlyphs">800</text>
<line x1="73.60" y1="611.05" x2="77.10" y2="611.05" stroke="#4a4a4a" stroke-width="1.1"/>
<text x="72.10" y="617.35" font-size="16.4" text-anchor="end" fill="#1a1a1a" font-weight="normal" textLength="32.5" lengthAdjust="spacingAndGlyphs">1000</text>
<line x1="73.60" y1="586.06" x2="77.10" y2="586.06" stroke="#4a4a4a" stroke-width="1.1"/>
<text x="72.10" y="592.81" font-size="16.4" text-anchor="end" fill="#1a1a1a" font-weight="normal" textLength="32.5" lengthAdjust="spacingAndGlyphs">1200</text>
<line x1="73.60" y1="561.07" x2="77.10" y2="561.07" stroke="#4a4a4a" stroke-width="1.1"/>
<text x="72.10" y="568.27" font-size="16.4" text-anchor="end" fill="#1a1a1a" font-weight="normal" textLength="32.5" lengthAdjust="spacingAndGlyphs">1400</text>
<line x1="73.60" y1="536.08" x2="77.10" y2="536.08" stroke="#4a4a4a" stroke-width="1.1"/>
<text x="72.10" y="543.73" font-size="16.4" text-anchor="end" fill="#1a1a1a" font-weight="normal" textLength="32.5" lengthAdjust="spacingAndGlyphs">1600</text>
<rect x="141.75" y="700.00" width="10.75" height="36.00" fill="url(#mf)"/>
<rect x="151.20" y="700.00" width="1.3" height="36.00" fill="url(#mfE)" opacity="0.55"/>
<rect x="141.75" y="700.00" width="0.7" height="36.00" fill="url(#mfE)" opacity="0.3"/>
<rect x="142.45" y="700.00" width="8.75" height="1.5" fill="url(#mfT)"/>
<rect x="152.50" y="720.00" width="10.00" height="16.00" fill="url(#mb)"/>
<rect x="161.20" y="720.00" width="1.3" height="16.00" fill="url(#mbE)" opacity="0.55"/>
<rect x="152.50" y="720.00" width="0.7" height="16.00" fill="url(#mbE)" opacity="0.3"/>
<rect x="153.20" y="720.00" width="8.00" height="1.5" fill="url(#mbT)"/>
<rect x="162.50" y="707.50" width="10.50" height="28.50" fill="url(#ff)"/>
<rect x="171.70" y="707.50" width="1.3" height="28.50" fill="url(#ffE)" opacity="0.55"/>
<rect x="162.50" y="707.50" width="0.7" height="28.50" fill="url(#ffE)" opacity="0.3"/>
<rect x="163.20" y="707.50" width="8.50" height="1.5" fill="url(#ffT)"/>
<rect x="173.00" y="717.50" width="10.75" height="18.50" fill="url(#fb)"/>
<rect x="182.45" y="717.50" width="1.3" height="18.50" fill="url(#fbE)" opacity="0.55"/>
<rect x="173.00" y="717.50" width="0.7" height="18.50" fill="url(#fbE)" opacity="0.3"/>
<rect x="173.70" y="717.50" width="8.75" height="1.5" fill="url(#fbT)"/>
<rect x="199.50" y="666.25" width="10.50" height="69.75" fill="url(#mf)"/>
<rect x="208.70" y="666.25" width="1.3" height="69.75" fill="url(#mfE)" opacity="0.55"/>
<rect x="199.50" y="666.25" width="0.7" height="69.75" fill="url(#mfE)" opacity="0.3"/>
<rect x="200.20" y="666.25" width="8.50" height="1.5" fill="url(#mfT)"/>
<rect x="210.00" y="688.00" width="10.00" height="48.00" fill="url(#mb)"/>
<rect x="218.70" y="688.00" width="1.3" height="48.00" fill="url(#mbE)" opacity="0.55"/>
<rect x="210.00" y="688.00" width="0.7" height="48.00" fill="url(#mbE)" opacity="0.3"/>
<rect x="210.70" y="688.00" width="8.00" height="1.5" fill="url(#mbT)"/>
<rect x="220.00" y="665.00" width="10.75" height="71.00" fill="url(#ff)"/>
<rect x="229.45" y="665.00" width="1.3" height="71.00" fill="url(#ffE)" opacity="0.55"/>
<rect x="220.00" y="665.00" width="0.7" height="71.00" fill="url(#ffE)" opacity="0.3"/>
<rect x="220.70" y="665.00" width="8.75" height="1.5" fill="url(#ffT)"/>
<rect x="230.75" y="690.75" width="10.50" height="45.25" fill="url(#fb)"/>
<rect x="239.95" y="690.75" width="1.3" height="45.25" fill="url(#fbE)" opacity="0.55"/>
<rect x="230.75" y="690.75" width="0.7" height="45.25" fill="url(#fbE)" opacity="0.3"/>
<rect x="231.45" y="690.75" width="8.50" height="1.5" fill="url(#fbT)"/>
<rect x="256.75" y="613.75" width="10.75" height="122.25" fill="url(#mf)"/>
<rect x="266.20" y="613.75" width="1.3" height="122.25" fill="url(#mfE)" opacity="0.55"/>
<rect x="256.75" y="613.75" width="0.7" height="122.25" fill="url(#mfE)" opacity="0.3"/>
<rect x="257.45" y="613.75" width="8.75" height="1.5" fill="url(#mfT)"/>
<rect x="267.50" y="681.75" width="10.00" height="54.25" fill="url(#mb)"/>
<rect x="276.20" y="681.75" width="1.3" height="54.25" fill="url(#mbE)" opacity="0.55"/>
<rect x="267.50" y="681.75" width="0.7" height="54.25" fill="url(#mbE)" opacity="0.3"/>
<rect x="268.20" y="681.75" width="8.00" height="1.5" fill="url(#mbT)"/>
<rect x="277.50" y="647.00" width="10.75" height="89.00" fill="url(#ff)"/>
<rect x="286.95" y="647.00" width="1.3" height="89.00" fill="url(#ffE)" opacity="0.55"/>
<rect x="277.50" y="647.00" width="0.7" height="89.00" fill="url(#ffE)" opacity="0.3"/>
<rect x="278.20" y="647.00" width="8.75" height="1.5" fill="url(#ffT)"/>
<rect x="288.25" y="686.75" width="10.00" height="49.25" fill="url(#fb)"/>
<rect x="296.95" y="686.75" width="1.3" height="49.25" fill="url(#fbE)" opacity="0.55"/>
<rect x="288.25" y="686.75" width="0.7" height="49.25" fill="url(#fbE)" opacity="0.3"/>
<rect x="288.95" y="686.75" width="8.00" height="1.5" fill="url(#fbT)"/>
<rect x="314.25" y="586.75" width="10.50" height="149.25" fill="url(#mf)"/>
<rect x="323.45" y="586.75" width="1.3" height="149.25" fill="url(#mfE)" opacity="0.55"/>
<rect x="314.25" y="586.75" width="0.7" height="149.25" fill="url(#mfE)" opacity="0.3"/>
<rect x="314.95" y="586.75" width="8.50" height="1.5" fill="url(#mfT)"/>
<rect x="324.75" y="660.00" width="10.25" height="76.00" fill="url(#mb)"/>
<rect x="333.70" y="660.00" width="1.3" height="76.00" fill="url(#mbE)" opacity="0.55"/>
<rect x="324.75" y="660.00" width="0.7" height="76.00" fill="url(#mbE)" opacity="0.3"/>
<rect x="325.45" y="660.00" width="8.25" height="1.5" fill="url(#mbT)"/>
<rect x="335.00" y="648.75" width="10.50" height="87.25" fill="url(#ff)"/>
<rect x="344.20" y="648.75" width="1.3" height="87.25" fill="url(#ffE)" opacity="0.55"/>
<rect x="335.00" y="648.75" width="0.7" height="87.25" fill="url(#ffE)" opacity="0.3"/>
<rect x="335.70" y="648.75" width="8.50" height="1.5" fill="url(#ffT)"/>
<rect x="345.50" y="681.25" width="10.75" height="54.75" fill="url(#fb)"/>
<rect x="354.95" y="681.25" width="1.3" height="54.75" fill="url(#fbE)" opacity="0.55"/>
<rect x="345.50" y="681.25" width="0.7" height="54.75" fill="url(#fbE)" opacity="0.3"/>
<rect x="346.20" y="681.25" width="8.75" height="1.5" fill="url(#fbT)"/>
<line x1="147.12" y1="691.25" x2="147.12" y2="709.25" stroke="#262626" stroke-width="1.15"/>
<line x1="145.82" y1="691.25" x2="148.43" y2="691.25" stroke="#262626" stroke-width="1.3"/>
<line x1="145.82" y1="709.25" x2="148.43" y2="709.25" stroke="#262626" stroke-width="1.3"/>
<line x1="157.50" y1="713.00" x2="157.50" y2="727.00" stroke="#262626" stroke-width="1.15"/>
<line x1="156.20" y1="713.00" x2="158.80" y2="713.00" stroke="#262626" stroke-width="1.3"/>
<line x1="156.20" y1="727.00" x2="158.80" y2="727.00" stroke="#262626" stroke-width="1.3"/>
<line x1="167.75" y1="700.00" x2="167.75" y2="715.00" stroke="#262626" stroke-width="1.15"/>
<line x1="166.45" y1="700.00" x2="169.05" y2="700.00" stroke="#262626" stroke-width="1.3"/>
<line x1="166.45" y1="715.00" x2="169.05" y2="715.00" stroke="#262626" stroke-width="1.3"/>
<line x1="178.38" y1="709.00" x2="178.38" y2="725.50" stroke="#262626" stroke-width="1.15"/>
<line x1="177.07" y1="709.00" x2="179.68" y2="709.00" stroke="#262626" stroke-width="1.3"/>
<line x1="177.07" y1="725.50" x2="179.68" y2="725.50" stroke="#262626" stroke-width="1.3"/>
<line x1="204.75" y1="651.25" x2="204.75" y2="681.75" stroke="#262626" stroke-width="1.15"/>
<line x1="203.45" y1="651.25" x2="206.05" y2="651.25" stroke="#262626" stroke-width="1.3"/>
<line x1="203.45" y1="681.75" x2="206.05" y2="681.75" stroke="#262626" stroke-width="1.3"/>
<line x1="215.00" y1="682.50" x2="215.00" y2="691.25" stroke="#262626" stroke-width="1.15"/>
<line x1="213.70" y1="682.50" x2="216.30" y2="682.50" stroke="#262626" stroke-width="1.3"/>
<line x1="213.70" y1="691.25" x2="216.30" y2="691.25" stroke="#262626" stroke-width="1.3"/>
<line x1="225.38" y1="640.50" x2="225.38" y2="690.00" stroke="#262626" stroke-width="1.15"/>
<line x1="224.07" y1="640.50" x2="226.68" y2="640.50" stroke="#262626" stroke-width="1.3"/>
<line x1="224.07" y1="690.00" x2="226.68" y2="690.00" stroke="#262626" stroke-width="1.3"/>
<line x1="236.00" y1="678.00" x2="236.00" y2="703.75" stroke="#262626" stroke-width="1.15"/>
<line x1="234.70" y1="678.00" x2="237.30" y2="678.00" stroke="#262626" stroke-width="1.3"/>
<line x1="234.70" y1="703.75" x2="237.30" y2="703.75" stroke="#262626" stroke-width="1.3"/>
<line x1="262.12" y1="590.50" x2="262.12" y2="637.50" stroke="#262626" stroke-width="1.15"/>
<line x1="260.82" y1="590.50" x2="263.43" y2="590.50" stroke="#262626" stroke-width="1.3"/>
<line x1="260.82" y1="637.50" x2="263.43" y2="637.50" stroke="#262626" stroke-width="1.3"/>
<line x1="272.50" y1="667.00" x2="272.50" y2="696.25" stroke="#262626" stroke-width="1.15"/>
<line x1="271.20" y1="667.00" x2="273.80" y2="667.00" stroke="#262626" stroke-width="1.3"/>
<line x1="271.20" y1="696.25" x2="273.80" y2="696.25" stroke="#262626" stroke-width="1.3"/>
<line x1="282.88" y1="618.25" x2="282.88" y2="676.25" stroke="#262626" stroke-width="1.15"/>
<line x1="281.57" y1="618.25" x2="284.18" y2="618.25" stroke="#262626" stroke-width="1.3"/>
<line x1="281.57" y1="676.25" x2="284.18" y2="676.25" stroke="#262626" stroke-width="1.3"/>
<line x1="293.25" y1="679.25" x2="293.25" y2="693.75" stroke="#262626" stroke-width="1.15"/>
<line x1="291.95" y1="679.25" x2="294.55" y2="679.25" stroke="#262626" stroke-width="1.3"/>
<line x1="291.95" y1="693.75" x2="294.55" y2="693.75" stroke="#262626" stroke-width="1.3"/>
<line x1="319.50" y1="550.00" x2="319.50" y2="622.50" stroke="#262626" stroke-width="1.15"/>
<line x1="318.20" y1="550.00" x2="320.80" y2="550.00" stroke="#262626" stroke-width="1.3"/>
<line x1="318.20" y1="622.50" x2="320.80" y2="622.50" stroke="#262626" stroke-width="1.3"/>
<line x1="329.88" y1="648.75" x2="329.88" y2="669.25" stroke="#262626" stroke-width="1.15"/>
<line x1="328.57" y1="648.75" x2="331.18" y2="648.75" stroke="#262626" stroke-width="1.3"/>
<line x1="328.57" y1="669.25" x2="331.18" y2="669.25" stroke="#262626" stroke-width="1.3"/>
<line x1="340.25" y1="625.75" x2="340.25" y2="673.00" stroke="#262626" stroke-width="1.15"/>
<line x1="338.95" y1="625.75" x2="341.55" y2="625.75" stroke="#262626" stroke-width="1.3"/>
<line x1="338.95" y1="673.00" x2="341.55" y2="673.00" stroke="#262626" stroke-width="1.3"/>
<line x1="350.88" y1="673.75" x2="350.88" y2="688.75" stroke="#262626" stroke-width="1.15"/>
<line x1="349.57" y1="673.75" x2="352.18" y2="673.75" stroke="#262626" stroke-width="1.3"/>
<line x1="349.57" y1="688.75" x2="352.18" y2="688.75" stroke="#262626" stroke-width="1.3"/>
<line x1="75.10" y1="736.00" x2="364.60" y2="736.00" stroke="#4a4a4a" stroke-width="1.2"/>
<line x1="77.10" y1="736.00" x2="77.10" y2="739.20" stroke="#4a4a4a" stroke-width="1.1"/>
<line x1="135.00" y1="736.00" x2="135.00" y2="739.20" stroke="#4a4a4a" stroke-width="1.1"/>
<line x1="192.00" y1="736.00" x2="192.00" y2="739.20" stroke="#4a4a4a" stroke-width="1.1"/>
<line x1="249.25" y1="736.00" x2="249.25" y2="739.20" stroke="#4a4a4a" stroke-width="1.1"/>
<line x1="306.25" y1="736.00" x2="306.25" y2="739.20" stroke="#4a4a4a" stroke-width="1.1"/>
<line x1="364.10" y1="736.00" x2="364.10" y2="739.20" stroke="#4a4a4a" stroke-width="1.0"/>
<text x="108.35" y="751.20" font-size="16.0" text-anchor="middle" fill="#1a1a1a" font-weight="normal" textLength="38.6" lengthAdjust="spacingAndGlyphs">0 mM</text>
<text x="163.75" y="751.20" font-size="16.0" text-anchor="middle" fill="#1a1a1a" font-weight="normal" textLength="38.6" lengthAdjust="spacingAndGlyphs">2 mM</text>
<text x="220.40" y="751.20" font-size="16.0" text-anchor="middle" fill="#1a1a1a" font-weight="normal" textLength="38.6" lengthAdjust="spacingAndGlyphs">4 mM</text>
<text x="276.75" y="751.20" font-size="16.0" text-anchor="middle" fill="#1a1a1a" font-weight="normal" textLength="38.6" lengthAdjust="spacingAndGlyphs">6 mM</text>
<text x="332.90" y="751.20" font-size="16.0" text-anchor="middle" fill="#1a1a1a" font-weight="normal" textLength="38.6" lengthAdjust="spacingAndGlyphs">8 mM</text>
<text transform="translate(32.30,637.40) rotate(-90)" font-size="16.3" text-anchor="middle" fill="#1a1a1a" textLength="187.5" lengthAdjust="spacingAndGlyphs">BMAA concentration (µg/g)</text>
<rect x="95.40" y="538.40" width="8.3" height="8.0" fill="url(#mfL)" stroke="url(#mfE)" stroke-width="0.6"/>
<text x="106.60" y="546.80" font-size="12.5" text-anchor="start" fill="#1a1a1a" font-weight="normal" textLength="91.2" lengthAdjust="spacingAndGlyphs">Male free BMAA</text>
<rect x="95.40" y="554.10" width="8.3" height="8.0" fill="url(#mbL)" stroke="url(#mbE)" stroke-width="0.6"/>
<text x="106.60" y="562.50" font-size="12.5" text-anchor="start" fill="#1a1a1a" font-weight="normal" textLength="104.6" lengthAdjust="spacingAndGlyphs">Male bound BMAA</text>
<rect x="95.40" y="569.60" width="8.3" height="8.0" fill="url(#ffL)" stroke="url(#ffE)" stroke-width="0.6"/>
<text x="106.60" y="578.00" font-size="12.5" text-anchor="start" fill="#1a1a1a" font-weight="normal" textLength="110.2" lengthAdjust="spacingAndGlyphs">Female Free BMAA</text>
<rect x="95.40" y="585.50" width="8.3" height="8.0" fill="url(#fbL)" stroke="url(#fbE)" stroke-width="0.6"/>
<text x="106.60" y="593.90" font-size="12.5" text-anchor="start" fill="#1a1a1a" font-weight="normal" textLength="118.4" lengthAdjust="spacingAndGlyphs">Female bound BMAA</text>
<line x1="424.20" y1="534.70" x2="424.20" y2="737.40" stroke="#4a4a4a" stroke-width="1.2"/>
<line x1="420.70" y1="734.90" x2="424.20" y2="734.90" stroke="#4a4a4a" stroke-width="1.1"/>
<text x="419.20" y="738.75" font-size="16.4" text-anchor="end" fill="#1a1a1a" font-weight="normal" textLength="8.1" lengthAdjust="spacingAndGlyphs">0</text>
<line x1="420.70" y1="714.94" x2="424.20" y2="714.94" stroke="#4a4a4a" stroke-width="1.1"/>
<text x="419.20" y="718.89" font-size="16.4" text-anchor="end" fill="#1a1a1a" font-weight="normal" textLength="24.4" lengthAdjust="spacingAndGlyphs">100</text>
<line x1="420.70" y1="694.98" x2="424.20" y2="694.98" stroke="#4a4a4a" stroke-width="1.1"/>
<text x="419.20" y="699.03" font-size="16.4" text-anchor="end" fill="#1a1a1a" font-weight="normal" textLength="24.4" lengthAdjust="spacingAndGlyphs">200</text>
<line x1="420.70" y1="675.02" x2="424.20" y2="675.02" stroke="#4a4a4a" stroke-width="1.1"/>
<text x="419.20" y="679.17" font-size="16.4" text-anchor="end" fill="#1a1a1a" font-weight="normal" textLength="24.4" lengthAdjust="spacingAndGlyphs">300</text>
<line x1="420.70" y1="655.06" x2="424.20" y2="655.06" stroke="#4a4a4a" stroke-width="1.1"/>
<text x="419.20" y="659.31" font-size="16.4" text-anchor="end" fill="#1a1a1a" font-weight="normal" textLength="24.4" lengthAdjust="spacingAndGlyphs">400</text>
<line x1="420.70" y1="635.10" x2="424.20" y2="635.10" stroke="#4a4a4a" stroke-width="1.1"/>
<text x="419.20" y="639.45" font-size="16.4" text-anchor="end" fill="#1a1a1a" font-weight="normal" textLength="24.4" lengthAdjust="spacingAndGlyphs">500</text>
<line x1="420.70" y1="615.14" x2="424.20" y2="615.14" stroke="#4a4a4a" stroke-width="1.1"/>
<text x="419.20" y="619.59" font-size="16.4" text-anchor="end" fill="#1a1a1a" font-weight="normal" textLength="24.4" lengthAdjust="spacingAndGlyphs">600</text>
<line x1="420.70" y1="595.18" x2="424.20" y2="595.18" stroke="#4a4a4a" stroke-width="1.1"/>
<text x="419.20" y="599.73" font-size="16.4" text-anchor="end" fill="#1a1a1a" font-weight="normal" textLength="24.4" lengthAdjust="spacingAndGlyphs">700</text>
<line x1="420.70" y1="575.22" x2="424.20" y2="575.22" stroke="#4a4a4a" stroke-width="1.1"/>
<text x="419.20" y="579.87" font-size="16.4" text-anchor="end" fill="#1a1a1a" font-weight="normal" textLength="24.4" lengthAdjust="spacingAndGlyphs">800</text>
<line x1="420.70" y1="555.26" x2="424.20" y2="555.26" stroke="#4a4a4a" stroke-width="1.1"/>
<text x="419.20" y="560.01" font-size="16.4" text-anchor="end" fill="#1a1a1a" font-weight="normal" textLength="24.4" lengthAdjust="spacingAndGlyphs">900</text>
<line x1="420.70" y1="535.30" x2="424.20" y2="535.30" stroke="#4a4a4a" stroke-width="1.1"/>
<text x="419.20" y="540.15" font-size="16.4" text-anchor="end" fill="#1a1a1a" font-weight="normal" textLength="32.5" lengthAdjust="spacingAndGlyphs">1000</text>
<rect x="493.00" y="695.00" width="16.50" height="39.90" fill="url(#mb)"/>
<rect x="508.20" y="695.00" width="1.3" height="39.90" fill="url(#mbE)" opacity="0.55"/>
<rect x="493.00" y="695.00" width="0.7" height="39.90" fill="url(#mbE)" opacity="0.3"/>
<rect x="493.70" y="695.00" width="14.50" height="1.5" fill="url(#mbT)"/>
<rect x="509.50" y="691.70" width="16.20" height="43.20" fill="url(#fb)"/>
<rect x="524.40" y="691.70" width="1.3" height="43.20" fill="url(#fbE)" opacity="0.55"/>
<rect x="509.50" y="691.70" width="0.7" height="43.20" fill="url(#fbE)" opacity="0.3"/>
<rect x="510.20" y="691.70" width="14.20" height="1.5" fill="url(#fbT)"/>
<rect x="550.20" y="653.90" width="16.20" height="81.00" fill="url(#mb)"/>
<rect x="565.10" y="653.90" width="1.3" height="81.00" fill="url(#mbE)" opacity="0.55"/>
<rect x="550.20" y="653.90" width="0.7" height="81.00" fill="url(#mbE)" opacity="0.3"/>
<rect x="550.90" y="653.90" width="14.20" height="1.5" fill="url(#mbT)"/>
<rect x="566.40" y="653.40" width="16.00" height="81.50" fill="url(#fb)"/>
<rect x="581.10" y="653.40" width="1.3" height="81.50" fill="url(#fbE)" opacity="0.55"/>
<rect x="566.40" y="653.40" width="0.7" height="81.50" fill="url(#fbE)" opacity="0.3"/>
<rect x="567.10" y="653.40" width="14.00" height="1.5" fill="url(#fbT)"/>
<rect x="606.40" y="638.20" width="16.60" height="96.70" fill="url(#mb)"/>
<rect x="621.70" y="638.20" width="1.3" height="96.70" fill="url(#mbE)" opacity="0.55"/>
<rect x="606.40" y="638.20" width="0.7" height="96.70" fill="url(#mbE)" opacity="0.3"/>
<rect x="607.10" y="638.20" width="14.60" height="1.5" fill="url(#mbT)"/>
<rect x="623.00" y="657.40" width="16.00" height="77.50" fill="url(#fb)"/>
<rect x="637.70" y="657.40" width="1.3" height="77.50" fill="url(#fbE)" opacity="0.55"/>
<rect x="623.00" y="657.40" width="0.7" height="77.50" fill="url(#fbE)" opacity="0.3"/>
<rect x="623.70" y="657.40" width="14.00" height="1.5" fill="url(#fbT)"/>
<rect x="663.50" y="615.90" width="15.90" height="119.00" fill="url(#mb)"/>
<rect x="678.10" y="615.90" width="1.3" height="119.00" fill="url(#mbE)" opacity="0.55"/>
<rect x="663.50" y="615.90" width="0.7" height="119.00" fill="url(#mbE)" opacity="0.3"/>
<rect x="664.20" y="615.90" width="13.90" height="1.5" fill="url(#mbT)"/>
<rect x="679.40" y="612.80" width="15.90" height="122.10" fill="url(#fb)"/>
<rect x="694.00" y="612.80" width="1.3" height="122.10" fill="url(#fbE)" opacity="0.55"/>
<rect x="679.40" y="612.80" width="0.7" height="122.10" fill="url(#fbE)" opacity="0.3"/>
<rect x="680.10" y="612.80" width="13.90" height="1.5" fill="url(#fbT)"/>
<line x1="501.25" y1="693.50" x2="501.25" y2="697.30" stroke="#262626" stroke-width="1.15"/>
<line x1="499.95" y1="693.50" x2="502.55" y2="693.50" stroke="#262626" stroke-width="1.3"/>
<line x1="499.95" y1="697.30" x2="502.55" y2="697.30" stroke="#262626" stroke-width="1.3"/>
<line x1="517.60" y1="687.50" x2="517.60" y2="695.90" stroke="#262626" stroke-width="1.15"/>
<line x1="516.30" y1="687.50" x2="518.90" y2="687.50" stroke="#262626" stroke-width="1.3"/>
<line x1="516.30" y1="695.90" x2="518.90" y2="695.90" stroke="#262626" stroke-width="1.3"/>
<line x1="558.30" y1="646.00" x2="558.30" y2="661.60" stroke="#262626" stroke-width="1.15"/>
<line x1="557.00" y1="646.00" x2="559.60" y2="646.00" stroke="#262626" stroke-width="1.3"/>
<line x1="557.00" y1="661.60" x2="559.60" y2="661.60" stroke="#262626" stroke-width="1.3"/>
<line x1="574.40" y1="639.60" x2="574.40" y2="667.00" stroke="#262626" stroke-width="1.15"/>
<line x1="573.10" y1="639.60" x2="575.70" y2="639.60" stroke="#262626" stroke-width="1.3"/>
<line x1="573.10" y1="667.00" x2="575.70" y2="667.00" stroke="#262626" stroke-width="1.3"/>
<line x1="614.70" y1="621.40" x2="614.70" y2="655.70" stroke="#262626" stroke-width="1.15"/>
<line x1="613.40" y1="621.40" x2="616.00" y2="621.40" stroke="#262626" stroke-width="1.3"/>
<line x1="613.40" y1="655.70" x2="616.00" y2="655.70" stroke="#262626" stroke-width="1.3"/>
<line x1="631.00" y1="643.70" x2="631.00" y2="671.40" stroke="#262626" stroke-width="1.15"/>
<line x1="629.70" y1="643.70" x2="632.30" y2="643.70" stroke="#262626" stroke-width="1.3"/>
<line x1="629.70" y1="671.40" x2="632.30" y2="671.40" stroke="#262626" stroke-width="1.3"/>
<line x1="671.45" y1="603.70" x2="671.45" y2="627.60" stroke="#262626" stroke-width="1.15"/>
<line x1="670.15" y1="603.70" x2="672.75" y2="603.70" stroke="#262626" stroke-width="1.3"/>
<line x1="670.15" y1="627.60" x2="672.75" y2="627.60" stroke="#262626" stroke-width="1.3"/>
<line x1="687.35" y1="607.20" x2="687.35" y2="618.30" stroke="#262626" stroke-width="1.15"/>
<line x1="686.05" y1="607.20" x2="688.65" y2="607.20" stroke="#262626" stroke-width="1.3"/>
<line x1="686.05" y1="618.30" x2="688.65" y2="618.30" stroke="#262626" stroke-width="1.3"/>
<line x1="422.20" y1="734.90" x2="707.70" y2="734.90" stroke="#4a4a4a" stroke-width="1.2"/>
<line x1="424.20" y1="734.90" x2="424.20" y2="738.10" stroke="#4a4a4a" stroke-width="1.1"/>
<line x1="481.20" y1="734.90" x2="481.20" y2="738.10" stroke="#4a4a4a" stroke-width="1.1"/>
<line x1="537.90" y1="734.90" x2="537.90" y2="738.10" stroke="#4a4a4a" stroke-width="1.1"/>
<line x1="594.30" y1="734.90" x2="594.30" y2="738.10" stroke="#4a4a4a" stroke-width="1.1"/>
<line x1="650.70" y1="734.90" x2="650.70" y2="738.10" stroke="#4a4a4a" stroke-width="1.1"/>
<line x1="707.20" y1="734.90" x2="707.20" y2="738.10" stroke="#4a4a4a" stroke-width="1.0"/>
<text x="453.75" y="750.60" font-size="16.0" text-anchor="middle" fill="#1a1a1a" font-weight="normal" textLength="38.6" lengthAdjust="spacingAndGlyphs">0 mM</text>
<text x="509.90" y="750.60" font-size="16.0" text-anchor="middle" fill="#1a1a1a" font-weight="normal" textLength="38.6" lengthAdjust="spacingAndGlyphs">2 mM</text>
<text x="565.50" y="750.60" font-size="16.0" text-anchor="middle" fill="#1a1a1a" font-weight="normal" textLength="38.6" lengthAdjust="spacingAndGlyphs">4 mM</text>
<text x="621.25" y="750.60" font-size="16.0" text-anchor="middle" fill="#1a1a1a" font-weight="normal" textLength="38.6" lengthAdjust="spacingAndGlyphs">6 mM</text>
<text x="677.20" y="750.60" font-size="16.0" text-anchor="middle" fill="#1a1a1a" font-weight="normal" textLength="38.6" lengthAdjust="spacingAndGlyphs">8 mM</text>
<text transform="translate(385.10,637.25) rotate(-90)" font-size="16.3" text-anchor="middle" fill="#1a1a1a" textLength="187.2" lengthAdjust="spacingAndGlyphs">BMAA concentration (µg/g)</text>
<rect x="437.80" y="543.80" width="8.3" height="8.0" fill="url(#mbL)" stroke="url(#mbE)" stroke-width="0.6"/>
<text x="451.40" y="552.20" font-size="12.7" text-anchor="start" fill="#1a1a1a" font-weight="normal" textLength="145.8" lengthAdjust="spacingAndGlyphs">Male bound BMAA (body)</text>
<rect x="437.80" y="560.60" width="8.3" height="8.0" fill="url(#fbL)" stroke="url(#fbE)" stroke-width="0.6"/>
<text x="451.40" y="569.00" font-size="12.7" text-anchor="start" fill="#1a1a1a" font-weight="normal" textLength="160.2" lengthAdjust="spacingAndGlyphs">Female bound BMAA (body)</text>
<line x1="75.50" y1="775.90" x2="75.50" y2="974.00" stroke="#4a4a4a" stroke-width="1.2"/>
<line x1="72.00" y1="971.50" x2="75.50" y2="971.50" stroke="#4a4a4a" stroke-width="1.1"/>
<text x="70.90" y="975.65" font-size="16.4" text-anchor="end" fill="#1a1a1a" font-weight="normal" textLength="8.1" lengthAdjust="spacingAndGlyphs">0</text>
<line x1="72.00" y1="952.00" x2="75.50" y2="952.00" stroke="#4a4a4a" stroke-width="1.1"/>
<text x="70.90" y="956.35" font-size="16.4" text-anchor="end" fill="#1a1a1a" font-weight="normal" textLength="24.4" lengthAdjust="spacingAndGlyphs">100</text>
<line x1="72.00" y1="932.50" x2="75.50" y2="932.50" stroke="#4a4a4a" stroke-width="1.1"/>
<text x="70.90" y="937.05" font-size="16.4" text-anchor="end" fill="#1a1a1a" font-weight="normal" textLength="24.4" lengthAdjust="spacingAndGlyphs">200</text>
<line x1="72.00" y1="913.00" x2="75.50" y2="913.00" stroke="#4a4a4a" stroke-width="1.1"/>
<text x="70.90" y="917.75" font-size="16.4" text-anchor="end" fill="#1a1a1a" font-weight="normal" textLength="24.4" lengthAdjust="spacingAndGlyphs">300</text>
<line x1="72.00" y1="893.50" x2="75.50" y2="893.50" stroke="#4a4a4a" stroke-width="1.1"/>
<text x="70.90" y="898.45" font-size="16.4" text-anchor="end" fill="#1a1a1a" font-weight="normal" textLength="24.4" lengthAdjust="spacingAndGlyphs">400</text>
<line x1="72.00" y1="874.00" x2="75.50" y2="874.00" stroke="#4a4a4a" stroke-width="1.1"/>
<text x="70.90" y="879.15" font-size="16.4" text-anchor="end" fill="#1a1a1a" font-weight="normal" textLength="24.4" lengthAdjust="spacingAndGlyphs">500</text>
<line x1="72.00" y1="854.50" x2="75.50" y2="854.50" stroke="#4a4a4a" stroke-width="1.1"/>
<text x="70.90" y="859.85" font-size="16.4" text-anchor="end" fill="#1a1a1a" font-weight="normal" textLength="24.4" lengthAdjust="spacingAndGlyphs">600</text>
<line x1="72.00" y1="835.00" x2="75.50" y2="835.00" stroke="#4a4a4a" stroke-width="1.1"/>
<text x="70.90" y="840.55" font-size="16.4" text-anchor="end" fill="#1a1a1a" font-weight="normal" textLength="24.4" lengthAdjust="spacingAndGlyphs">700</text>
<line x1="72.00" y1="815.50" x2="75.50" y2="815.50" stroke="#4a4a4a" stroke-width="1.1"/>
<text x="70.90" y="821.25" font-size="16.4" text-anchor="end" fill="#1a1a1a" font-weight="normal" textLength="24.4" lengthAdjust="spacingAndGlyphs">800</text>
<line x1="72.00" y1="796.00" x2="75.50" y2="796.00" stroke="#4a4a4a" stroke-width="1.1"/>
<text x="70.90" y="801.95" font-size="16.4" text-anchor="end" fill="#1a1a1a" font-weight="normal" textLength="24.4" lengthAdjust="spacingAndGlyphs">900</text>
<line x1="72.00" y1="776.50" x2="75.50" y2="776.50" stroke="#4a4a4a" stroke-width="1.1"/>
<text x="70.90" y="782.65" font-size="16.4" text-anchor="end" fill="#1a1a1a" font-weight="normal" textLength="32.5" lengthAdjust="spacingAndGlyphs">1000</text>
<rect x="143.75" y="944.25" width="15.75" height="27.05" fill="url(#eb)"/>
<rect x="158.20" y="944.25" width="1.3" height="27.05" fill="url(#ebE)" opacity="0.55"/>
<rect x="143.75" y="944.25" width="0.7" height="27.05" fill="url(#ebE)" opacity="0.3"/>
<rect x="144.45" y="944.25" width="13.75" height="1.5" fill="url(#ebT)"/>
<rect x="159.50" y="949.25" width="16.00" height="22.05" fill="url(#er)"/>
<rect x="174.20" y="949.25" width="1.3" height="22.05" fill="url(#erE)" opacity="0.55"/>
<rect x="159.50" y="949.25" width="0.7" height="22.05" fill="url(#erE)" opacity="0.3"/>
<rect x="160.20" y="949.25" width="14.00" height="1.5" fill="url(#erT)"/>
<rect x="199.50" y="959.25" width="16.00" height="12.05" fill="url(#eb)"/>
<rect x="214.20" y="959.25" width="1.3" height="12.05" fill="url(#ebE)" opacity="0.55"/>
<rect x="199.50" y="959.25" width="0.7" height="12.05" fill="url(#ebE)" opacity="0.3"/>
<rect x="200.20" y="959.25" width="14.00" height="1.5" fill="url(#ebT)"/>
<rect x="215.50" y="933.90" width="16.30" height="37.40" fill="url(#er)"/>
<rect x="230.50" y="933.90" width="1.3" height="37.40" fill="url(#erE)" opacity="0.55"/>
<rect x="215.50" y="933.90" width="0.7" height="37.40" fill="url(#erE)" opacity="0.3"/>
<rect x="216.20" y="933.90" width="14.30" height="1.5" fill="url(#erT)"/>
<rect x="256.00" y="901.90" width="16.50" height="69.40" fill="url(#eb)"/>
<rect x="271.20" y="901.90" width="1.3" height="69.40" fill="url(#ebE)" opacity="0.55"/>
<rect x="256.00" y="901.90" width="0.7" height="69.40" fill="url(#ebE)" opacity="0.3"/>
<rect x="256.70" y="901.90" width="14.50" height="1.5" fill="url(#ebT)"/>
<rect x="272.50" y="940.40" width="15.70" height="30.90" fill="url(#er)"/>
<rect x="286.90" y="940.40" width="1.3" height="30.90" fill="url(#erE)" opacity="0.55"/>
<rect x="272.50" y="940.40" width="0.7" height="30.90" fill="url(#erE)" opacity="0.3"/>
<rect x="273.20" y="940.40" width="13.70" height="1.5" fill="url(#erT)"/>
<rect x="312.10" y="898.40" width="16.30" height="72.90" fill="url(#eb)"/>
<rect x="327.10" y="898.40" width="1.3" height="72.90" fill="url(#ebE)" opacity="0.55"/>
<rect x="312.10" y="898.40" width="0.7" height="72.90" fill="url(#ebE)" opacity="0.3"/>
<rect x="312.80" y="898.40" width="14.30" height="1.5" fill="url(#ebT)"/>
<rect x="328.40" y="935.90" width="16.20" height="35.40" fill="url(#er)"/>
<rect x="343.30" y="935.90" width="1.3" height="35.40" fill="url(#erE)" opacity="0.55"/>
<rect x="328.40" y="935.90" width="0.7" height="35.40" fill="url(#erE)" opacity="0.3"/>
<rect x="329.10" y="935.90" width="14.20" height="1.5" fill="url(#erT)"/>
<line x1="151.62" y1="941.25" x2="151.62" y2="947.50" stroke="#262626" stroke-width="1.15"/>
<line x1="150.32" y1="941.25" x2="152.93" y2="941.25" stroke="#262626" stroke-width="1.3"/>
<line x1="150.32" y1="947.50" x2="152.93" y2="947.50" stroke="#262626" stroke-width="1.3"/>
<line x1="167.50" y1="945.50" x2="167.50" y2="954.25" stroke="#262626" stroke-width="1.15"/>
<line x1="166.20" y1="945.50" x2="168.80" y2="945.50" stroke="#262626" stroke-width="1.3"/>
<line x1="166.20" y1="954.25" x2="168.80" y2="954.25" stroke="#262626" stroke-width="1.3"/>
<line x1="207.50" y1="958.00" x2="207.50" y2="961.25" stroke="#262626" stroke-width="1.15"/>
<line x1="206.20" y1="958.00" x2="208.80" y2="958.00" stroke="#262626" stroke-width="1.3"/>
<line x1="206.20" y1="961.25" x2="208.80" y2="961.25" stroke="#262626" stroke-width="1.3"/>
<line x1="223.65" y1="931.25" x2="223.65" y2="937.00" stroke="#262626" stroke-width="1.15"/>
<line x1="222.35" y1="931.25" x2="224.95" y2="931.25" stroke="#262626" stroke-width="1.3"/>
<line x1="222.35" y1="937.00" x2="224.95" y2="937.00" stroke="#262626" stroke-width="1.3"/>
<line x1="264.25" y1="897.00" x2="264.25" y2="907.30" stroke="#262626" stroke-width="1.15"/>
<line x1="262.95" y1="897.00" x2="265.55" y2="897.00" stroke="#262626" stroke-width="1.3"/>
<line x1="262.95" y1="907.30" x2="265.55" y2="907.30" stroke="#262626" stroke-width="1.3"/>
<line x1="280.35" y1="938.90" x2="280.35" y2="943.30" stroke="#262626" stroke-width="1.15"/>
<line x1="279.05" y1="938.90" x2="281.65" y2="938.90" stroke="#262626" stroke-width="1.3"/>
<line x1="279.05" y1="943.30" x2="281.65" y2="943.30" stroke="#262626" stroke-width="1.3"/>
<line x1="320.25" y1="897.40" x2="320.25" y2="899.90" stroke="#262626" stroke-width="1.15"/>
<line x1="318.95" y1="897.40" x2="321.55" y2="897.40" stroke="#262626" stroke-width="1.3"/>
<line x1="318.95" y1="899.90" x2="321.55" y2="899.90" stroke="#262626" stroke-width="1.3"/>
<line x1="336.50" y1="929.10" x2="336.50" y2="943.30" stroke="#262626" stroke-width="1.15"/>
<line x1="335.20" y1="929.10" x2="337.80" y2="929.10" stroke="#262626" stroke-width="1.3"/>
<line x1="335.20" y1="943.30" x2="337.80" y2="943.30" stroke="#262626" stroke-width="1.3"/>
<line x1="73.50" y1="971.30" x2="355.30" y2="971.30" stroke="#4a4a4a" stroke-width="1.2"/>
<line x1="75.50" y1="971.30" x2="75.50" y2="974.50" stroke="#4a4a4a" stroke-width="1.1"/>
<line x1="132.00" y1="971.30" x2="132.00" y2="974.50" stroke="#4a4a4a" stroke-width="1.1"/>
<line x1="188.00" y1="971.30" x2="188.00" y2="974.50" stroke="#4a4a4a" stroke-width="1.1"/>
<line x1="244.30" y1="971.30" x2="244.30" y2="974.50" stroke="#4a4a4a" stroke-width="1.1"/>
<line x1="299.80" y1="971.30" x2="299.80" y2="974.50" stroke="#4a4a4a" stroke-width="1.1"/>
<line x1="354.80" y1="971.30" x2="354.80" y2="974.50" stroke="#4a4a4a" stroke-width="1.0"/>
<text x="100.00" y="990.70" font-size="16.0" text-anchor="middle" fill="#1a1a1a" font-weight="normal" textLength="38.6" lengthAdjust="spacingAndGlyphs">0 mM</text>
<text x="156.00" y="990.70" font-size="16.0" text-anchor="middle" fill="#1a1a1a" font-weight="normal" textLength="38.6" lengthAdjust="spacingAndGlyphs">2 mM</text>
<text x="211.60" y="990.70" font-size="16.0" text-anchor="middle" fill="#1a1a1a" font-weight="normal" textLength="38.6" lengthAdjust="spacingAndGlyphs">4 mM</text>
<text x="268.20" y="990.70" font-size="16.0" text-anchor="middle" fill="#1a1a1a" font-weight="normal" textLength="38.6" lengthAdjust="spacingAndGlyphs">6 mM</text>
<text x="324.00" y="990.70" font-size="16.0" text-anchor="middle" fill="#1a1a1a" font-weight="normal" textLength="38.6" lengthAdjust="spacingAndGlyphs">8 mM</text>
<text transform="translate(33.30,874.40) rotate(-90)" font-size="16.3" text-anchor="middle" fill="#1a1a1a" textLength="187.0" lengthAdjust="spacingAndGlyphs">BMAA concentration (µg/g)</text>
<rect x="88.75" y="784.10" width="8.3" height="8.0" fill="url(#ebL)" stroke="url(#ebE)" stroke-width="0.6"/>
<text x="101.10" y="792.50" font-size="12.6" text-anchor="start" fill="#1a1a1a" font-weight="normal" textLength="131.6" lengthAdjust="spacingAndGlyphs">Male free BMAA (body)</text>
<rect x="88.75" y="800.80" width="8.3" height="8.0" fill="url(#erL)" stroke="url(#erE)" stroke-width="0.6"/>
<text x="101.10" y="809.20" font-size="12.6" text-anchor="start" fill="#1a1a1a" font-weight="normal" textLength="146.1" lengthAdjust="spacingAndGlyphs">Female free BMAA (body)</text>
<line x1="423.10" y1="775.70" x2="423.10" y2="977.10" stroke="#4a4a4a" stroke-width="1.2"/>
<line x1="419.60" y1="974.60" x2="423.10" y2="974.60" stroke="#4a4a4a" stroke-width="1.1"/>
<text x="418.80" y="978.25" font-size="16.4" text-anchor="end" fill="#1a1a1a" font-weight="normal" textLength="8.1" lengthAdjust="spacingAndGlyphs">0</text>
<line x1="419.60" y1="954.77" x2="423.10" y2="954.77" stroke="#4a4a4a" stroke-width="1.1"/>
<text x="418.80" y="958.68" font-size="16.4" text-anchor="end" fill="#1a1a1a" font-weight="normal" textLength="24.4" lengthAdjust="spacingAndGlyphs">100</text>
<line x1="419.60" y1="934.94" x2="423.10" y2="934.94" stroke="#4a4a4a" stroke-width="1.1"/>
<text x="418.80" y="939.12" font-size="16.4" text-anchor="end" fill="#1a1a1a" font-weight="normal" textLength="24.4" lengthAdjust="spacingAndGlyphs">200</text>
<line x1="419.60" y1="915.11" x2="423.10" y2="915.11" stroke="#4a4a4a" stroke-width="1.1"/>
<text x="418.80" y="919.55" font-size="16.4" text-anchor="end" fill="#1a1a1a" font-weight="normal" textLength="24.4" lengthAdjust="spacingAndGlyphs">300</text>
<line x1="419.60" y1="895.28" x2="423.10" y2="895.28" stroke="#4a4a4a" stroke-width="1.1"/>
<text x="418.80" y="899.99" font-size="16.4" text-anchor="end" fill="#1a1a1a" font-weight="normal" textLength="24.4" lengthAdjust="spacingAndGlyphs">400</text>
<line x1="419.60" y1="875.45" x2="423.10" y2="875.45" stroke="#4a4a4a" stroke-width="1.1"/>
<text x="418.80" y="880.42" font-size="16.4" text-anchor="end" fill="#1a1a1a" font-weight="normal" textLength="24.4" lengthAdjust="spacingAndGlyphs">500</text>
<line x1="419.60" y1="855.62" x2="423.10" y2="855.62" stroke="#4a4a4a" stroke-width="1.1"/>
<text x="418.80" y="860.86" font-size="16.4" text-anchor="end" fill="#1a1a1a" font-weight="normal" textLength="24.4" lengthAdjust="spacingAndGlyphs">600</text>
<line x1="419.60" y1="835.79" x2="423.10" y2="835.79" stroke="#4a4a4a" stroke-width="1.1"/>
<text x="418.80" y="841.29" font-size="16.4" text-anchor="end" fill="#1a1a1a" font-weight="normal" textLength="24.4" lengthAdjust="spacingAndGlyphs">700</text>
<line x1="419.60" y1="815.96" x2="423.10" y2="815.96" stroke="#4a4a4a" stroke-width="1.1"/>
<text x="418.80" y="821.73" font-size="16.4" text-anchor="end" fill="#1a1a1a" font-weight="normal" textLength="24.4" lengthAdjust="spacingAndGlyphs">800</text>
<line x1="419.60" y1="796.13" x2="423.10" y2="796.13" stroke="#4a4a4a" stroke-width="1.1"/>
<text x="418.80" y="802.16" font-size="16.4" text-anchor="end" fill="#1a1a1a" font-weight="normal" textLength="24.4" lengthAdjust="spacingAndGlyphs">900</text>
<line x1="419.60" y1="776.30" x2="423.10" y2="776.30" stroke="#4a4a4a" stroke-width="1.1"/>
<text x="418.80" y="782.60" font-size="16.4" text-anchor="end" fill="#1a1a1a" font-weight="normal" textLength="32.5" lengthAdjust="spacingAndGlyphs">1000</text>
<rect x="492.30" y="930.80" width="16.30" height="43.80" fill="url(#mf)"/>
<rect x="507.30" y="930.80" width="1.3" height="43.80" fill="url(#mfE)" opacity="0.55"/>
<rect x="492.30" y="930.80" width="0.7" height="43.80" fill="url(#mfE)" opacity="0.3"/>
<rect x="493.00" y="930.80" width="14.30" height="1.5" fill="url(#mfT)"/>
<rect x="508.60" y="942.30" width="16.00" height="32.30" fill="url(#ff)"/>
<rect x="523.30" y="942.30" width="1.3" height="32.30" fill="url(#ffE)" opacity="0.55"/>
<rect x="508.60" y="942.30" width="0.7" height="32.30" fill="url(#ffE)" opacity="0.3"/>
<rect x="509.30" y="942.30" width="14.00" height="1.5" fill="url(#ffT)"/>
<rect x="549.20" y="869.70" width="16.40" height="104.90" fill="url(#mf)"/>
<rect x="564.30" y="869.70" width="1.3" height="104.90" fill="url(#mfE)" opacity="0.55"/>
<rect x="549.20" y="869.70" width="0.7" height="104.90" fill="url(#mfE)" opacity="0.3"/>
<rect x="549.90" y="869.70" width="14.40" height="1.5" fill="url(#mfT)"/>
<rect x="565.60" y="884.10" width="16.20" height="90.50" fill="url(#ff)"/>
<rect x="580.50" y="884.10" width="1.3" height="90.50" fill="url(#ffE)" opacity="0.55"/>
<rect x="565.60" y="884.10" width="0.7" height="90.50" fill="url(#ffE)" opacity="0.3"/>
<rect x="566.30" y="884.10" width="14.20" height="1.5" fill="url(#ffT)"/>
<rect x="606.00" y="880.90" width="16.60" height="93.70" fill="url(#mf)"/>
<rect x="621.30" y="880.90" width="1.3" height="93.70" fill="url(#mfE)" opacity="0.55"/>
<rect x="606.00" y="880.90" width="0.7" height="93.70" fill="url(#mfE)" opacity="0.3"/>
<rect x="606.70" y="880.90" width="14.60" height="1.5" fill="url(#mfT)"/>
<rect x="622.60" y="813.20" width="16.50" height="161.40" fill="url(#ff)"/>
<rect x="637.80" y="813.20" width="1.3" height="161.40" fill="url(#ffE)" opacity="0.55"/>
<rect x="622.60" y="813.20" width="0.7" height="161.40" fill="url(#ffE)" opacity="0.3"/>
<rect x="623.30" y="813.20" width="14.50" height="1.5" fill="url(#ffT)"/>
<rect x="663.70" y="827.80" width="16.20" height="146.80" fill="url(#mf)"/>
<rect x="678.60" y="827.80" width="1.3" height="146.80" fill="url(#mfE)" opacity="0.55"/>
<rect x="663.70" y="827.80" width="0.7" height="146.80" fill="url(#mfE)" opacity="0.3"/>
<rect x="664.40" y="827.80" width="14.20" height="1.5" fill="url(#mfT)"/>
<rect x="679.90" y="818.10" width="16.20" height="156.50" fill="url(#ff)"/>
<rect x="694.80" y="818.10" width="1.3" height="156.50" fill="url(#ffE)" opacity="0.55"/>
<rect x="679.90" y="818.10" width="0.7" height="156.50" fill="url(#ffE)" opacity="0.3"/>
<rect x="680.60" y="818.10" width="14.20" height="1.5" fill="url(#ffT)"/>
<line x1="500.45" y1="927.20" x2="500.45" y2="934.50" stroke="#262626" stroke-width="1.15"/>
<line x1="499.15" y1="927.20" x2="501.75" y2="927.20" stroke="#262626" stroke-width="1.3"/>
<line x1="499.15" y1="934.50" x2="501.75" y2="934.50" stroke="#262626" stroke-width="1.3"/>
<line x1="516.60" y1="936.30" x2="516.60" y2="947.90" stroke="#262626" stroke-width="1.15"/>
<line x1="515.30" y1="936.30" x2="517.90" y2="936.30" stroke="#262626" stroke-width="1.3"/>
<line x1="515.30" y1="947.90" x2="517.90" y2="947.90" stroke="#262626" stroke-width="1.3"/>
<line x1="557.40" y1="856.00" x2="557.40" y2="882.60" stroke="#262626" stroke-width="1.15"/>
<line x1="556.10" y1="856.00" x2="558.70" y2="856.00" stroke="#262626" stroke-width="1.3"/>
<line x1="556.10" y1="882.60" x2="558.70" y2="882.60" stroke="#262626" stroke-width="1.3"/>
<line x1="573.70" y1="864.20" x2="573.70" y2="904.00" stroke="#262626" stroke-width="1.15"/>
<line x1="572.40" y1="864.20" x2="575.00" y2="864.20" stroke="#262626" stroke-width="1.3"/>
<line x1="572.40" y1="904.00" x2="575.00" y2="904.00" stroke="#262626" stroke-width="1.3"/>
<line x1="614.30" y1="862.70" x2="614.30" y2="899.50" stroke="#262626" stroke-width="1.15"/>
<line x1="613.00" y1="862.70" x2="615.60" y2="862.70" stroke="#262626" stroke-width="1.3"/>
<line x1="613.00" y1="899.50" x2="615.60" y2="899.50" stroke="#262626" stroke-width="1.3"/>
<line x1="630.85" y1="777.50" x2="630.85" y2="849.00" stroke="#262626" stroke-width="1.15"/>
<line x1="629.55" y1="777.50" x2="632.15" y2="777.50" stroke="#262626" stroke-width="1.3"/>
<line x1="629.55" y1="849.00" x2="632.15" y2="849.00" stroke="#262626" stroke-width="1.3"/>
<line x1="671.80" y1="804.40" x2="671.80" y2="852.20" stroke="#262626" stroke-width="1.15"/>
<line x1="670.50" y1="804.40" x2="673.10" y2="804.40" stroke="#262626" stroke-width="1.3"/>
<line x1="670.50" y1="852.20" x2="673.10" y2="852.20" stroke="#262626" stroke-width="1.3"/>
<line x1="688.00" y1="795.50" x2="688.00" y2="841.50" stroke="#262626" stroke-width="1.15"/>
<line x1="686.70" y1="795.50" x2="689.30" y2="795.50" stroke="#262626" stroke-width="1.3"/>
<line x1="686.70" y1="841.50" x2="689.30" y2="841.50" stroke="#262626" stroke-width="1.3"/>
<line x1="421.10" y1="974.60" x2="708.80" y2="974.60" stroke="#4a4a4a" stroke-width="1.2"/>
<line x1="423.10" y1="974.60" x2="423.10" y2="977.80" stroke="#4a4a4a" stroke-width="1.1"/>
<line x1="480.10" y1="974.60" x2="480.10" y2="977.80" stroke="#4a4a4a" stroke-width="1.1"/>
<line x1="536.80" y1="974.60" x2="536.80" y2="977.80" stroke="#4a4a4a" stroke-width="1.1"/>
<line x1="593.50" y1="974.60" x2="593.50" y2="977.80" stroke="#4a4a4a" stroke-width="1.1"/>
<line x1="651.50" y1="974.60" x2="651.50" y2="977.80" stroke="#4a4a4a" stroke-width="1.1"/>
<line x1="708.30" y1="974.60" x2="708.30" y2="977.80" stroke="#4a4a4a" stroke-width="1.0"/>
<text x="453.40" y="991.00" font-size="16.0" text-anchor="middle" fill="#1a1a1a" font-weight="normal" textLength="38.6" lengthAdjust="spacingAndGlyphs">0 mM</text>
<text x="509.40" y="991.00" font-size="16.0" text-anchor="middle" fill="#1a1a1a" font-weight="normal" textLength="38.6" lengthAdjust="spacingAndGlyphs">2 mM</text>
<text x="565.90" y="991.00" font-size="16.0" text-anchor="middle" fill="#1a1a1a" font-weight="normal" textLength="38.6" lengthAdjust="spacingAndGlyphs">4 mM</text>
<text x="621.50" y="991.00" font-size="16.0" text-anchor="middle" fill="#1a1a1a" font-weight="normal" textLength="38.6" lengthAdjust="spacingAndGlyphs">6 mM</text>
<text x="677.75" y="991.00" font-size="16.0" text-anchor="middle" fill="#1a1a1a" font-weight="normal" textLength="38.6" lengthAdjust="spacingAndGlyphs">8 mM</text>
<text transform="translate(384.20,878.60) rotate(-90)" font-size="16.3" text-anchor="middle" fill="#1a1a1a" textLength="187.0" lengthAdjust="spacingAndGlyphs">BMAA concentration (µg/g)</text>
<rect x="435.60" y="782.70" width="8.3" height="8.0" fill="url(#mfL)" stroke="url(#mfE)" stroke-width="0.6"/>
<text x="447.85" y="791.10" font-size="12.7" text-anchor="start" fill="#1a1a1a" font-weight="normal" textLength="133.5" lengthAdjust="spacingAndGlyphs">Male free BMAA (head)</text>
<rect x="435.60" y="799.50" width="8.3" height="8.0" fill="url(#ffL)" stroke="url(#ffE)" stroke-width="0.6"/>
<text x="447.85" y="807.90" font-size="12.7" text-anchor="start" fill="#1a1a1a" font-weight="normal" textLength="147.8" lengthAdjust="spacingAndGlyphs">Female free BMAA (head)</text></svg></body></html>
